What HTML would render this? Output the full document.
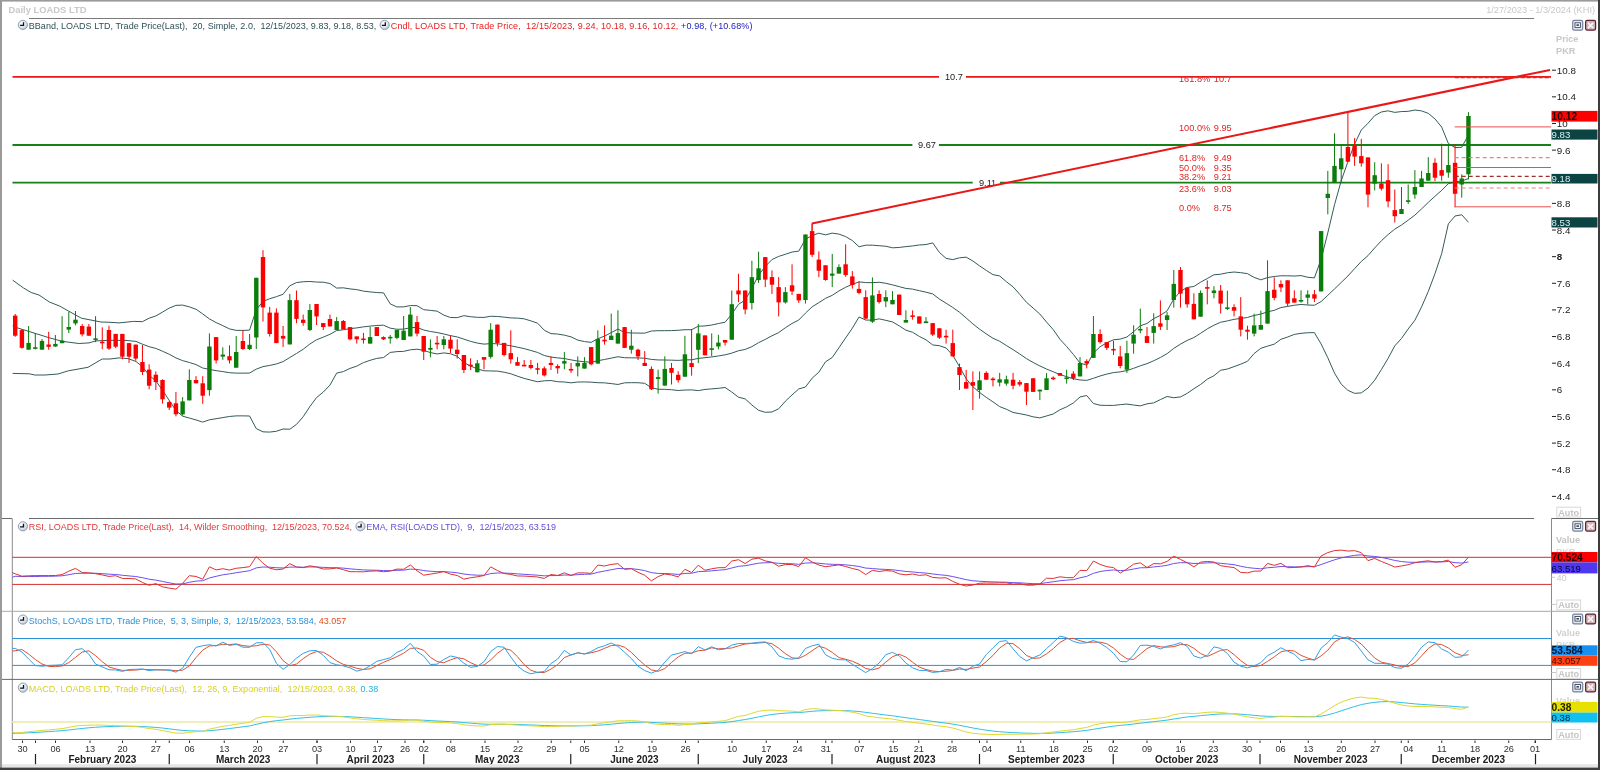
<!DOCTYPE html>
<html><head><meta charset="utf-8"><style>
html,body{margin:0;padding:0;background:#fff;overflow:hidden;width:1600px;height:770px}
svg{display:block;will-change:transform}
text{font-family:"Liberation Sans", sans-serif;white-space:pre}
</style></head><body>
<svg width="1600" height="770" viewBox="0 0 1600 770">
<defs><radialGradient id="clk" cx="0.4" cy="0.35" r="0.7"><stop offset="0" stop-color="#ffffff"/><stop offset="0.6" stop-color="#dfe6f0"/><stop offset="1" stop-color="#a8b8cc"/></radialGradient></defs>
<rect x="0" y="0" width="1600" height="770" fill="#ffffff"/>
<text x="8.5" y="13.2" font-size="9.4" fill="#c8c8c8" font-weight="bold">Daily LOADS LTD</text>
<text x="1595" y="13.2" font-size="9.2" fill="#c8c8c8" text-anchor="end">1/27/2023 - 1/3/2024 (KHI)</text>
<line x1="29" y1="18.5" x2="1534" y2="18.5" stroke="#7a7a7a" stroke-width="1"/>
<rect x="1572.7" y="20.4" width="10" height="9.8" rx="1.6" fill="#e4e9f0" stroke="#73839a" stroke-width="1.2"/>
<rect x="1575" y="22.8" width="5.4" height="4.6" fill="#ffffff" stroke="#3e4656" stroke-width="0.9"/>
<rect x="1576.4" y="24.3" width="2.6" height="1.6" fill="#3e4656"/>
<rect x="1585.6" y="20.4" width="10" height="9.8" rx="1.6" fill="#d2aeb4" stroke="#5c2432" stroke-width="1.2"/>
<path d="M1588,22.8 L1593.2,28 M1593.2,22.8 L1588,28" stroke="#f4f4f4" stroke-width="1.8"/>
<text x="1556" y="42" font-size="9.2" fill="#c8c8c8" font-weight="bold">Price</text>
<text x="1556" y="54" font-size="9.2" fill="#c8c8c8" font-weight="bold">PKR</text>
<g transform="translate(22.9,24.9)"><circle r="4.6" fill="url(#clk)" stroke="#8a96aa" stroke-width="0.9"/><path d="M0.6,-2.6 V0.5 H-2.8" fill="none" stroke="#111" stroke-width="1.3"/></g>
<text x="28.8" y="28.8" font-size="9" textLength="347.5" lengthAdjust="spacing" fill="#2f4f58">BBand, LOADS LTD, Trade Price(Last),  20, Simple, 2.0,  12/15/2023, 9.83, 9.18, 8.53,</text>
<g transform="translate(384.7,24.9)"><circle r="4.6" fill="url(#clk)" stroke="#8a96aa" stroke-width="0.9"/><path d="M0.6,-2.6 V0.5 H-2.8" fill="none" stroke="#111" stroke-width="1.3"/></g>
<text x="390.8" y="28.8" font-size="9" textLength="361.7" lengthAdjust="spacing" fill="#e82020">Cndl, LOADS LTD, Trade Price,  12/15/2023, 9.24, 10.18, 9.16, 10.12, <tspan fill="#2020c0">+0.98, (+10.68%)</tspan></text>
<line x1="12.5" y1="76.9" x2="939" y2="76.9" stroke="#e81818" stroke-width="1.8"/>
<line x1="966" y1="76.9" x2="1551" y2="76.9" stroke="#e81818" stroke-width="1.8"/>
<text x="945" y="80.2" font-size="9.2" fill="#202020">10.7</text>
<line x1="12.5" y1="145" x2="912.4" y2="145" stroke="#178017" stroke-width="1.8"/>
<line x1="939" y1="145" x2="1551" y2="145" stroke="#178017" stroke-width="1.8"/>
<text x="918" y="148.3" font-size="9.2" fill="#202020">9.67</text>
<line x1="12.5" y1="182.7" x2="972.7" y2="182.7" stroke="#178017" stroke-width="1.8"/>
<line x1="1000" y1="182.7" x2="1551" y2="182.7" stroke="#178017" stroke-width="1.8"/>
<text x="979" y="186" font-size="9.2" fill="#202020">9.11</text>
<polyline points="12.6,280.1 23.4,287.9 31.2,292.5 39,295 49.4,302 59.7,306.1 68.4,311 81.4,318.2 101,322 110,322.3 119,322.9 133.6,321.4 142.44,321.65 149.14,318.17 155.84,315.97 162.53,312.08 169.23,308.1 175.93,305.37 182.62,305.1 189.32,306.85 196.02,309.24 202.72,313.92 209.41,318.91 216.11,322.6 222.81,325.63 229.5,328.9 236.2,330.37 242.9,330.44 249.59,330.1 256.29,309.58 262.99,301.45 269.69,298.75 276.38,296.68 283.08,294.24 289.78,285.79 296.47,282.58 303.17,281.74 309.87,281.49 316.56,282.04 323.26,282.23 329.96,283.5 336.66,288.07 343.35,287.84 350.05,288.92 356.75,289.62 363.44,291.12 370.14,291.92 376.84,292.56 383.53,292.85 390.23,303.87 396.93,306.94 403.63,306.87 410.32,305.56 417.02,305.7 423.72,309.67 430.41,310.38 437.11,311.13 443.81,315.1 450.5,317.51 457.2,317.64 463.9,315.68 470.6,316.72 477.29,317.32 483.99,317.42 490.69,316.28 497.38,316.48 504.08,317.14 510.78,317.9 517.48,318.11 524.17,318.84 530.87,320.89 537.57,323.18 544.26,330.22 550.96,333.6 557.66,334.07 564.35,335.15 571.05,336.88 577.75,340.07 584.45,341.57 591.14,342.38 597.84,338.73 604.54,336.11 611.23,332.63 617.93,329.09 624.63,332.54 631.32,332.98 638.02,333.08 644.72,333.17 651.42,331.05 658.11,330.69 664.81,330.68 671.51,330.6 678.2,330.28 684.9,329.71 691.6,329.71 698.29,326.22 704.99,325.91 711.69,325.03 718.39,323.55 725.08,322.21 731.78,314.18 738.48,304.34 745.17,300.02 751.87,288.32 758.57,275.09 765.26,266.45 771.96,259.59 778.66,256.41 785.36,254.28 792.05,252.04 798.75,251.13 805.45,239.21 812.14,235.53 818.84,233.19 825.54,234.86 832.23,233.14 838.93,234.09 845.63,236.59 852.33,240.54 859.02,246.77 865.72,245.17 872.42,245.16 879.11,245.72 885.81,246.24 892.51,247.81 899.2,247.44 905.9,246.62 912.6,245.94 919.3,244.97 925.99,244.55 932.69,242.87 939.39,252.42 946.08,258.39 952.78,259.63 959.48,257.81 966.17,257.17 972.87,261 979.57,265.89 986.27,270.38 992.96,274.63 999.66,275.94 1006.36,281.7 1013.05,286.84 1019.75,294.36 1026.45,302.25 1033.14,308.07 1039.84,314 1046.54,322.09 1053.24,329.61 1059.93,339.22 1066.63,346.5 1073.33,354.4 1080.02,363.03 1086.72,365.2 1093.42,353.07 1100.11,346.72 1106.81,342.77 1113.51,339.75 1120.21,339.12 1126.9,337.03 1133.6,331.64 1140.3,325.74 1146.99,323.5 1153.69,318.63 1160.39,315.4 1167.08,310.85 1173.78,299.03 1180.48,291.37 1187.17,287.45 1193.87,286.47 1200.57,282.2 1207.27,278.5 1213.96,274.79 1220.66,274.19 1227.36,272.77 1234.05,272.02 1240.75,272.67 1247.45,273.65 1254.14,277.41 1260.84,279.8 1267.54,277.6 1274.24,276.47 1280.93,275.8 1287.63,275.81 1294.33,276.03 1301.02,275.59 1307.72,277.28 1314.42,277.86 1321.12,259.21 1327.81,232.87 1334.51,204.78 1341.21,180.81 1347.9,161.7 1354.6,143.96 1361.3,130.06 1367.99,123.22 1374.69,115.65 1381.39,111.97 1388.09,110.82 1394.78,112.39 1401.48,111.56 1408.18,111.35 1414.87,110 1421.57,110.9 1428.27,113.33 1434.96,118.88 1441.66,127.05 1448.36,143.52 1455.06,147.62 1461.75,147.29 1468.45,134.79" fill="none" stroke="#345a5a" stroke-width="1" stroke-linejoin="round"/>
<polyline points="12.6,326 17.8,328 49,337.7 62,341.3 78.8,343.5 89,342.9 95.7,340.9 110,340.3 126,340.4 136,341.4 142.44,344.19 149.14,346.69 155.84,348.41 162.53,351.23 169.23,354.24 175.93,357.91 182.62,360.64 189.32,362.45 196.02,364.58 202.72,368.02 209.41,369.36 216.11,370.66 222.81,371.6 229.5,372.69 236.2,373.13 242.9,373.15 249.59,373.05 256.29,369.11 262.99,366.64 269.69,365.42 276.38,363.97 283.08,361.62 289.78,357.52 296.47,353.5 303.17,349.26 309.87,344.04 316.56,339.79 323.26,337.15 329.96,334.3 336.66,330.57 343.35,329.72 350.05,328.66 356.75,327.9 363.44,326.87 370.14,326.12 376.84,325.47 383.53,325.2 390.23,328.16 396.93,329.28 403.63,329.12 410.32,327.7 417.02,327.45 423.72,330.02 430.41,331.48 437.11,332.55 443.81,334.01 450.5,335.62 457.2,336.97 463.9,339.15 470.6,341.39 477.29,343.08 483.99,344.11 490.69,343.62 497.38,343.78 504.08,344.68 510.78,345.84 517.48,347.16 524.17,348.62 530.87,350.51 537.57,352.46 544.26,355.5 550.96,357.07 557.66,357.91 564.35,358.56 571.05,359.86 577.75,361.04 584.45,361.75 591.14,362.27 597.84,360.71 604.54,359.49 611.23,358.11 617.93,356.78 624.63,357.69 631.32,357.83 638.02,357.9 644.72,358.23 651.42,359.41 658.11,359.96 664.81,360.01 671.51,360.16 678.2,360.4 684.9,359.87 691.6,359.8 698.29,358.42 704.99,357.68 711.69,356.95 718.39,355.94 725.08,354.85 731.78,353.12 738.48,350.76 745.17,349.45 751.87,346.66 758.57,342.68 765.26,339.38 771.96,335.79 778.66,332.61 785.36,327.75 792.05,323.46 798.75,320.04 805.45,313.12 812.14,306.85 818.84,302.67 825.54,298.32 832.23,295.33 838.93,290.93 845.63,287.25 852.33,284.38 859.02,281.89 865.72,282.61 872.42,282.66 879.11,282.29 885.81,283.29 892.51,284.87 899.2,286.64 905.9,288.41 912.6,289.12 919.3,290.69 925.99,292.19 932.69,293.9 939.39,299.06 946.08,303.18 952.78,307.46 959.48,312.21 966.17,317.96 972.87,323.89 979.57,329.16 986.27,333.89 992.96,338.24 999.66,341.27 1006.36,345.47 1013.05,349.65 1019.75,354.02 1026.45,358.61 1033.14,362.45 1039.84,365.94 1046.54,369.02 1053.24,371.79 1059.93,374.5 1066.63,376.67 1073.33,378.7 1080.02,379.99 1086.72,380.35 1093.42,378.3 1100.11,375.98 1106.81,374.09 1113.51,372.58 1120.21,371.89 1126.9,370.56 1133.6,368.33 1140.3,365.81 1146.99,363.67 1153.69,360.75 1160.39,357.5 1167.08,353.67 1173.78,348.38 1180.48,344.14 1187.17,340.42 1193.87,337.59 1200.57,333.34 1207.27,328.85 1213.96,325.23 1220.66,322.23 1227.36,320.9 1234.05,319.33 1240.75,318.42 1247.45,317.49 1254.14,315.46 1260.84,314.05 1267.54,311.88 1274.24,310.32 1280.93,307.54 1287.63,306.42 1294.33,305.22 1301.02,304.47 1307.72,305 1314.42,305.25 1321.12,301.59 1327.81,295.31 1334.51,288.96 1341.21,282.46 1347.9,276.01 1354.6,268.66 1361.3,261.46 1367.99,255.66 1374.69,247.93 1381.39,240.78 1388.09,234.58 1394.78,229.14 1401.48,225.03 1408.18,220.16 1414.87,215.14 1421.57,208.89 1428.27,202.41 1434.96,196.28 1441.66,190.34 1448.36,183.66 1455.06,181.79 1461.75,181.03 1468.45,178.54" fill="none" stroke="#345a5a" stroke-width="1" stroke-linejoin="round"/>
<polyline points="12.6,373.4 29.5,373.8 34.7,375 45,375 58,374 68.4,370.8 88,367.3 102.2,359 110,359 119,357.9 128,358.6 136,361.5 142.44,366.74 149.14,375.22 155.84,380.85 162.53,390.38 169.23,400.38 175.93,410.45 182.62,416.18 189.32,418.04 196.02,419.93 202.72,422.12 209.41,419.81 216.11,418.72 222.81,417.58 229.5,416.48 236.2,415.89 242.9,415.86 249.59,416.01 256.29,428.64 262.99,431.84 269.69,432.08 276.38,431.26 283.08,428.99 289.78,429.24 296.47,424.41 303.17,416.78 309.87,406.6 316.56,397.55 323.26,392.07 329.96,385.11 336.66,373.08 343.35,371.59 350.05,368.4 356.75,366.17 363.44,362.61 370.14,360.32 376.84,358.38 383.53,357.54 390.23,352.44 396.93,351.63 403.63,351.37 410.32,349.83 417.02,349.19 423.72,350.38 430.41,352.57 437.11,353.96 443.81,352.92 450.5,353.73 457.2,356.29 463.9,362.61 470.6,366.05 477.29,368.85 483.99,370.79 490.69,370.97 497.38,371.08 504.08,372.21 510.78,373.78 517.48,376.21 524.17,378.4 530.87,380.14 537.57,381.75 544.26,380.79 550.96,380.55 557.66,381.74 564.35,381.98 571.05,382.84 577.75,382.01 584.45,381.94 591.14,382.16 597.84,382.7 604.54,382.87 611.23,383.59 617.93,384.47 624.63,382.84 631.32,382.68 638.02,382.72 644.72,383.3 651.42,387.78 658.11,389.23 664.81,389.34 671.51,389.73 678.2,390.53 684.9,390.03 691.6,389.9 698.29,390.62 704.99,389.44 711.69,388.87 718.39,388.32 725.08,387.49 731.78,392.05 738.48,397.19 745.17,398.89 751.87,405 758.57,410.27 765.26,412.3 771.96,411.99 778.66,408.81 785.36,401.22 792.05,394.89 798.75,388.95 805.45,387.04 812.14,378.18 818.84,372.16 825.54,361.79 832.23,357.53 838.93,347.76 845.63,337.92 852.33,328.21 859.02,317.01 865.72,320.05 872.42,320.16 879.11,318.86 885.81,320.33 892.51,321.93 899.2,325.84 905.9,330.19 912.6,332.29 919.3,336.41 925.99,339.83 932.69,344.93 939.39,345.7 946.08,347.96 952.78,355.29 959.48,366.61 966.17,378.75 972.87,386.78 979.57,392.42 986.27,397.4 992.96,401.85 999.66,406.61 1006.36,409.24 1013.05,412.46 1019.75,413.69 1026.45,414.97 1033.14,416.84 1039.84,417.88 1046.54,415.96 1053.24,413.97 1059.93,409.79 1066.63,406.84 1073.33,403 1080.02,396.95 1086.72,395.5 1093.42,403.53 1100.11,405.23 1106.81,405.4 1113.51,405.41 1120.21,404.67 1126.9,404.09 1133.6,405.02 1140.3,405.89 1146.99,403.85 1153.69,402.87 1160.39,399.6 1167.08,396.49 1173.78,397.73 1180.48,396.92 1187.17,393.38 1193.87,388.72 1200.57,384.49 1207.27,379.2 1213.96,375.67 1220.66,370.27 1227.36,369.03 1234.05,366.64 1240.75,364.17 1247.45,361.34 1254.14,353.52 1260.84,348.31 1267.54,346.15 1274.24,344.17 1280.93,339.29 1287.63,337.03 1294.33,334.4 1301.02,333.34 1307.72,332.71 1314.42,332.63 1321.12,343.96 1327.81,357.75 1334.51,373.14 1341.21,384.1 1347.9,390.33 1354.6,393.37 1361.3,392.86 1367.99,388.09 1374.69,380.21 1381.39,369.59 1388.09,358.34 1394.78,345.89 1401.48,338.51 1408.18,328.98 1414.87,320.29 1421.57,306.88 1428.27,291.49 1434.96,273.68 1441.66,253.63 1448.36,223.8 1455.06,215.97 1461.75,214.77 1468.45,222.28" fill="none" stroke="#345a5a" stroke-width="1" stroke-linejoin="round"/>
<rect x="14.7" y="314" width="1" height="22.8" fill="#fa0000"/>
<rect x="13" y="315.6" width="4.4" height="20.1" fill="#fa0000"/>
<rect x="21.4" y="329.2" width="1" height="19.5" fill="#fa0000"/>
<rect x="19.7" y="330.1" width="4.4" height="17.7" fill="#fa0000"/>
<rect x="28.09" y="326" width="1" height="23.7" fill="#0a7d0a"/>
<rect x="26.39" y="342.9" width="4.4" height="6.8" fill="#0a7d0a"/>
<rect x="34.79" y="333.1" width="1" height="16.3" fill="#0a7d0a"/>
<rect x="33.09" y="347.25" width="4.4" height="1.6" fill="#0a7d0a"/>
<rect x="41.49" y="339" width="1" height="10.7" fill="#0a7d0a"/>
<rect x="39.79" y="340.9" width="4.4" height="8.8" fill="#0a7d0a"/>
<rect x="48.19" y="331.8" width="1" height="17.9" fill="#fa0000"/>
<rect x="46.48" y="344.5" width="4.4" height="2.3" fill="#fa0000"/>
<rect x="54.88" y="335" width="1" height="11.8" fill="#0a7d0a"/>
<rect x="53.18" y="343.9" width="4.4" height="2.6" fill="#0a7d0a"/>
<rect x="61.58" y="316.2" width="1" height="27" fill="#0a7d0a"/>
<rect x="59.88" y="340.5" width="4.4" height="2.7" fill="#0a7d0a"/>
<rect x="68.28" y="311.7" width="1" height="21.4" fill="#0a7d0a"/>
<rect x="66.58" y="327" width="4.4" height="2.6" fill="#0a7d0a"/>
<rect x="74.97" y="311" width="1" height="14.3" fill="#0a7d0a"/>
<rect x="73.27" y="319.7" width="4.4" height="3.7" fill="#0a7d0a"/>
<rect x="81.67" y="324" width="1" height="12.4" fill="#fa0000"/>
<rect x="79.97" y="326" width="4.4" height="8.4" fill="#fa0000"/>
<rect x="88.37" y="324" width="1" height="12" fill="#fa0000"/>
<rect x="86.67" y="326.6" width="4.4" height="9.1" fill="#fa0000"/>
<rect x="95.06" y="316.2" width="1" height="26" fill="#0a7d0a"/>
<rect x="93.36" y="338.35" width="4.4" height="1.6" fill="#0a7d0a"/>
<rect x="101.76" y="327.3" width="1" height="21.8" fill="#fa0000"/>
<rect x="100.06" y="341.7" width="4.4" height="1.6" fill="#fa0000"/>
<rect x="108.46" y="325.7" width="1" height="24.3" fill="#fa0000"/>
<rect x="106.76" y="330" width="4.4" height="18.6" fill="#fa0000"/>
<rect x="115.16" y="333.9" width="1" height="14.2" fill="#fa0000"/>
<rect x="113.45" y="333.9" width="4.4" height="12.8" fill="#fa0000"/>
<rect x="121.85" y="333.9" width="1" height="25.4" fill="#fa0000"/>
<rect x="120.15" y="333.9" width="4.4" height="22.8" fill="#fa0000"/>
<rect x="128.55" y="343.1" width="1" height="19.8" fill="#fa0000"/>
<rect x="126.85" y="343.1" width="4.4" height="13.6" fill="#fa0000"/>
<rect x="135.25" y="344.6" width="1" height="16.1" fill="#fa0000"/>
<rect x="133.55" y="344.6" width="4.4" height="14" fill="#fa0000"/>
<rect x="141.94" y="345" width="1" height="30" fill="#fa0000"/>
<rect x="140.24" y="362" width="4.4" height="10" fill="#fa0000"/>
<rect x="148.64" y="364.3" width="1" height="25" fill="#fa0000"/>
<rect x="146.94" y="369.6" width="4.4" height="16.1" fill="#fa0000"/>
<rect x="155.34" y="371.4" width="1" height="18.6" fill="#fa0000"/>
<rect x="153.64" y="374.7" width="4.4" height="7.4" fill="#fa0000"/>
<rect x="162.03" y="379.3" width="1" height="24.3" fill="#fa0000"/>
<rect x="160.33" y="380" width="4.4" height="19.3" fill="#fa0000"/>
<rect x="168.73" y="400.7" width="1" height="9.3" fill="#fa0000"/>
<rect x="167.03" y="402.1" width="4.4" height="5.5" fill="#fa0000"/>
<rect x="175.43" y="392" width="1" height="24.4" fill="#fa0000"/>
<rect x="173.73" y="403.3" width="4.4" height="11" fill="#fa0000"/>
<rect x="182.12" y="397.1" width="1" height="18.6" fill="#0a7d0a"/>
<rect x="180.43" y="401.4" width="4.4" height="12.9" fill="#0a7d0a"/>
<rect x="188.82" y="369.3" width="1" height="31.1" fill="#0a7d0a"/>
<rect x="187.12" y="380" width="4.4" height="20.4" fill="#0a7d0a"/>
<rect x="195.52" y="376.1" width="1" height="7.2" fill="#fa0000"/>
<rect x="193.82" y="380" width="4.4" height="3.3" fill="#fa0000"/>
<rect x="202.22" y="376.2" width="1" height="27.6" fill="#fa0000"/>
<rect x="200.52" y="383.3" width="4.4" height="12.4" fill="#fa0000"/>
<rect x="208.91" y="333.4" width="1" height="62.3" fill="#0a7d0a"/>
<rect x="207.21" y="346.5" width="4.4" height="43.6" fill="#0a7d0a"/>
<rect x="215.61" y="337.1" width="1" height="26.4" fill="#fa0000"/>
<rect x="213.91" y="337.1" width="4.4" height="23.3" fill="#fa0000"/>
<rect x="222.31" y="347.3" width="1" height="12.5" fill="#0a7d0a"/>
<rect x="220.61" y="354.6" width="4.4" height="2" fill="#0a7d0a"/>
<rect x="229" y="345.4" width="1" height="18.1" fill="#fa0000"/>
<rect x="227.3" y="356.2" width="4.4" height="4.2" fill="#fa0000"/>
<rect x="235.7" y="336" width="1" height="31.7" fill="#0a7d0a"/>
<rect x="234" y="352" width="4.4" height="15.7" fill="#0a7d0a"/>
<rect x="242.4" y="330.2" width="1" height="19.8" fill="#fa0000"/>
<rect x="240.7" y="341" width="4.4" height="8" fill="#fa0000"/>
<rect x="249.09" y="334" width="1" height="16" fill="#0a7d0a"/>
<rect x="247.4" y="344.8" width="4.4" height="4.2" fill="#0a7d0a"/>
<rect x="255.79" y="277.8" width="1" height="71.2" fill="#0a7d0a"/>
<rect x="254.09" y="277.8" width="4.4" height="59.7" fill="#0a7d0a"/>
<rect x="262.49" y="250.2" width="1" height="71.3" fill="#fa0000"/>
<rect x="260.79" y="257" width="4.4" height="50.4" fill="#fa0000"/>
<rect x="269.19" y="307" width="1" height="29.5" fill="#fa0000"/>
<rect x="267.49" y="312.6" width="4.4" height="21.4" fill="#fa0000"/>
<rect x="275.88" y="308.4" width="1" height="34.7" fill="#fa0000"/>
<rect x="274.18" y="312.6" width="4.4" height="30.5" fill="#fa0000"/>
<rect x="282.58" y="326" width="1" height="20.9" fill="#fa0000"/>
<rect x="280.88" y="335.9" width="4.4" height="2.7" fill="#fa0000"/>
<rect x="289.28" y="293.9" width="1" height="50.5" fill="#0a7d0a"/>
<rect x="287.58" y="300.1" width="4.4" height="44.3" fill="#0a7d0a"/>
<rect x="295.97" y="290.5" width="1" height="32.8" fill="#fa0000"/>
<rect x="294.27" y="300.2" width="4.4" height="18.7" fill="#fa0000"/>
<rect x="302.67" y="314.6" width="1" height="11.1" fill="#fa0000"/>
<rect x="300.97" y="319.7" width="4.4" height="3.2" fill="#fa0000"/>
<rect x="309.37" y="304" width="1" height="27.1" fill="#0a7d0a"/>
<rect x="307.67" y="310" width="4.4" height="20" fill="#0a7d0a"/>
<rect x="316.06" y="304" width="1" height="21" fill="#fa0000"/>
<rect x="314.37" y="304" width="4.4" height="12.4" fill="#fa0000"/>
<rect x="322.76" y="323.1" width="1" height="6.9" fill="#fa0000"/>
<rect x="321.06" y="323.1" width="4.4" height="4" fill="#fa0000"/>
<rect x="329.46" y="314.6" width="1" height="11.8" fill="#fa0000"/>
<rect x="327.76" y="319" width="4.4" height="7.4" fill="#fa0000"/>
<rect x="336.16" y="317.1" width="1" height="12.9" fill="#0a7d0a"/>
<rect x="334.46" y="321.1" width="4.4" height="8.9" fill="#0a7d0a"/>
<rect x="342.85" y="320" width="1" height="9.3" fill="#fa0000"/>
<rect x="341.15" y="321" width="4.4" height="8.3" fill="#fa0000"/>
<rect x="349.55" y="327.1" width="1" height="13.2" fill="#fa0000"/>
<rect x="347.85" y="327.1" width="4.4" height="12.2" fill="#fa0000"/>
<rect x="356.25" y="336.4" width="1" height="7.2" fill="#fa0000"/>
<rect x="354.55" y="336.4" width="4.4" height="2.9" fill="#fa0000"/>
<rect x="362.94" y="332.9" width="1" height="10.7" fill="#fa0000"/>
<rect x="361.24" y="338.5" width="4.4" height="1.6" fill="#fa0000"/>
<rect x="369.64" y="326.9" width="1" height="16.7" fill="#0a7d0a"/>
<rect x="367.94" y="337.1" width="4.4" height="6.5" fill="#0a7d0a"/>
<rect x="376.34" y="327.1" width="1" height="8.9" fill="#fa0000"/>
<rect x="374.64" y="327.1" width="4.4" height="8.9" fill="#fa0000"/>
<rect x="383.03" y="336.4" width="1" height="3.6" fill="#fa0000"/>
<rect x="381.33" y="337.1" width="4.4" height="2.2" fill="#fa0000"/>
<rect x="389.73" y="335" width="1" height="8.6" fill="#0a7d0a"/>
<rect x="388.03" y="336.85" width="4.4" height="1.6" fill="#0a7d0a"/>
<rect x="396.43" y="330" width="1" height="9.3" fill="#0a7d0a"/>
<rect x="394.73" y="330" width="4.4" height="7.9" fill="#0a7d0a"/>
<rect x="403.13" y="316" width="1" height="24" fill="#0a7d0a"/>
<rect x="401.43" y="330.7" width="4.4" height="9.3" fill="#0a7d0a"/>
<rect x="409.82" y="307.1" width="1" height="29.3" fill="#0a7d0a"/>
<rect x="408.12" y="314.6" width="4.4" height="21.8" fill="#0a7d0a"/>
<rect x="416.52" y="316" width="1" height="20.4" fill="#fa0000"/>
<rect x="414.82" y="322.1" width="4.4" height="11.5" fill="#fa0000"/>
<rect x="423.22" y="336" width="1" height="24" fill="#fa0000"/>
<rect x="421.52" y="336" width="4.4" height="15.7" fill="#fa0000"/>
<rect x="429.91" y="339.3" width="1" height="18.1" fill="#0a7d0a"/>
<rect x="428.21" y="347.9" width="4.4" height="1.8" fill="#0a7d0a"/>
<rect x="436.61" y="336" width="1" height="13.3" fill="#fa0000"/>
<rect x="434.91" y="342.8" width="4.4" height="1.6" fill="#fa0000"/>
<rect x="443.31" y="336" width="1" height="13.3" fill="#0a7d0a"/>
<rect x="441.61" y="339.3" width="4.4" height="5.7" fill="#0a7d0a"/>
<rect x="450" y="335.4" width="1" height="17.5" fill="#fa0000"/>
<rect x="448.31" y="339.7" width="4.4" height="8.9" fill="#fa0000"/>
<rect x="456.7" y="339.3" width="1" height="19.3" fill="#fa0000"/>
<rect x="455" y="349.7" width="4.4" height="4.3" fill="#fa0000"/>
<rect x="463.4" y="355" width="1" height="18.1" fill="#fa0000"/>
<rect x="461.7" y="355" width="4.4" height="15" fill="#fa0000"/>
<rect x="470.1" y="358.3" width="1" height="11.7" fill="#fa0000"/>
<rect x="468.4" y="364.65" width="4.4" height="1.6" fill="#fa0000"/>
<rect x="476.79" y="360" width="1" height="12.3" fill="#0a7d0a"/>
<rect x="475.09" y="363.3" width="4.4" height="9" fill="#0a7d0a"/>
<rect x="483.49" y="357.1" width="1" height="12.2" fill="#fa0000"/>
<rect x="481.79" y="357.1" width="4.4" height="2.6" fill="#fa0000"/>
<rect x="490.19" y="323.1" width="1" height="35.5" fill="#0a7d0a"/>
<rect x="488.49" y="329.7" width="4.4" height="27.2" fill="#0a7d0a"/>
<rect x="496.88" y="324.6" width="1" height="21.8" fill="#fa0000"/>
<rect x="495.18" y="324.6" width="4.4" height="18.3" fill="#fa0000"/>
<rect x="503.58" y="342.9" width="1" height="13.5" fill="#fa0000"/>
<rect x="501.88" y="342.9" width="4.4" height="12.1" fill="#fa0000"/>
<rect x="510.28" y="330.3" width="1" height="33.3" fill="#fa0000"/>
<rect x="508.58" y="353.1" width="4.4" height="6.2" fill="#fa0000"/>
<rect x="516.98" y="357.1" width="1" height="8.6" fill="#fa0000"/>
<rect x="515.27" y="362.1" width="4.4" height="3.6" fill="#fa0000"/>
<rect x="523.67" y="360" width="1" height="6.2" fill="#fa0000"/>
<rect x="521.97" y="364.8" width="4.4" height="1.6" fill="#fa0000"/>
<rect x="530.37" y="360" width="1" height="9.3" fill="#fa0000"/>
<rect x="528.67" y="365" width="4.4" height="2.9" fill="#fa0000"/>
<rect x="537.07" y="362.9" width="1" height="11.4" fill="#fa0000"/>
<rect x="535.37" y="368.2" width="4.4" height="1.6" fill="#fa0000"/>
<rect x="543.76" y="366.4" width="1" height="10" fill="#fa0000"/>
<rect x="542.06" y="368.3" width="4.4" height="7.1" fill="#fa0000"/>
<rect x="550.46" y="356.4" width="1" height="13.6" fill="#fa0000"/>
<rect x="548.76" y="362.9" width="4.4" height="2.1" fill="#fa0000"/>
<rect x="557.16" y="364.3" width="1" height="9.3" fill="#fa0000"/>
<rect x="555.46" y="366" width="4.4" height="2.3" fill="#fa0000"/>
<rect x="563.85" y="352.1" width="1" height="17.2" fill="#0a7d0a"/>
<rect x="562.15" y="361.1" width="4.4" height="2.5" fill="#0a7d0a"/>
<rect x="570.55" y="362.9" width="1" height="10" fill="#fa0000"/>
<rect x="568.85" y="368.95" width="4.4" height="1.6" fill="#fa0000"/>
<rect x="577.25" y="356.4" width="1" height="20" fill="#0a7d0a"/>
<rect x="575.55" y="362.9" width="4.4" height="3.5" fill="#0a7d0a"/>
<rect x="583.95" y="357.1" width="1" height="11.5" fill="#0a7d0a"/>
<rect x="582.25" y="362.9" width="4.4" height="5.7" fill="#0a7d0a"/>
<rect x="590.64" y="347.1" width="1" height="18.3" fill="#fa0000"/>
<rect x="588.94" y="347.1" width="4.4" height="17.2" fill="#fa0000"/>
<rect x="597.34" y="330.3" width="1" height="33.3" fill="#0a7d0a"/>
<rect x="595.64" y="338.9" width="4.4" height="24.7" fill="#0a7d0a"/>
<rect x="604.04" y="325.4" width="1" height="19.2" fill="#fa0000"/>
<rect x="602.34" y="339.7" width="4.4" height="1.7" fill="#fa0000"/>
<rect x="610.73" y="313.6" width="1" height="26.4" fill="#0a7d0a"/>
<rect x="609.03" y="335.7" width="4.4" height="4.3" fill="#0a7d0a"/>
<rect x="617.43" y="310.3" width="1" height="33.3" fill="#0a7d0a"/>
<rect x="615.73" y="333.1" width="4.4" height="10.5" fill="#0a7d0a"/>
<rect x="624.13" y="327.1" width="1" height="20.8" fill="#fa0000"/>
<rect x="622.43" y="327.1" width="4.4" height="20.8" fill="#fa0000"/>
<rect x="630.82" y="329.7" width="1" height="23.9" fill="#0a7d0a"/>
<rect x="629.12" y="345.7" width="4.4" height="4" fill="#0a7d0a"/>
<rect x="637.52" y="348.6" width="1" height="11.4" fill="#fa0000"/>
<rect x="635.82" y="349.7" width="4.4" height="6.7" fill="#fa0000"/>
<rect x="644.22" y="351.1" width="1" height="14.9" fill="#fa0000"/>
<rect x="642.52" y="362.9" width="4.4" height="3.1" fill="#fa0000"/>
<rect x="650.92" y="366.4" width="1" height="23.6" fill="#fa0000"/>
<rect x="649.22" y="368.9" width="4.4" height="20.4" fill="#fa0000"/>
<rect x="657.61" y="369.7" width="1" height="23.9" fill="#0a7d0a"/>
<rect x="655.91" y="377.1" width="4.4" height="1.8" fill="#0a7d0a"/>
<rect x="664.31" y="356.3" width="1" height="29.3" fill="#0a7d0a"/>
<rect x="662.61" y="368.9" width="4.4" height="16.7" fill="#0a7d0a"/>
<rect x="671.01" y="363" width="1" height="21.5" fill="#fa0000"/>
<rect x="669.31" y="368" width="4.4" height="4.8" fill="#fa0000"/>
<rect x="677.7" y="371.2" width="1" height="11.4" fill="#fa0000"/>
<rect x="676" y="374.8" width="4.4" height="5.4" fill="#fa0000"/>
<rect x="684.4" y="335.8" width="1" height="40.9" fill="#0a7d0a"/>
<rect x="682.7" y="354.3" width="4.4" height="22.4" fill="#0a7d0a"/>
<rect x="691.1" y="329" width="1" height="46.7" fill="#fa0000"/>
<rect x="689.4" y="363.1" width="4.4" height="3.9" fill="#fa0000"/>
<rect x="697.79" y="324" width="1" height="39.1" fill="#0a7d0a"/>
<rect x="696.09" y="333.4" width="4.4" height="16.4" fill="#0a7d0a"/>
<rect x="704.49" y="335.4" width="1" height="19.9" fill="#fa0000"/>
<rect x="702.79" y="335.4" width="4.4" height="19.9" fill="#fa0000"/>
<rect x="711.19" y="333.4" width="1" height="22.8" fill="#0a7d0a"/>
<rect x="709.49" y="348.3" width="4.4" height="1.6" fill="#0a7d0a"/>
<rect x="717.89" y="334.8" width="1" height="14.6" fill="#0a7d0a"/>
<rect x="716.19" y="342.6" width="4.4" height="3.9" fill="#0a7d0a"/>
<rect x="724.58" y="340" width="1" height="5.5" fill="#fa0000"/>
<rect x="722.88" y="340" width="4.4" height="2.6" fill="#fa0000"/>
<rect x="731.28" y="290.5" width="1" height="49.2" fill="#0a7d0a"/>
<rect x="729.58" y="304.2" width="4.4" height="35.5" fill="#0a7d0a"/>
<rect x="737.98" y="273.8" width="1" height="28.4" fill="#fa0000"/>
<rect x="736.28" y="290.5" width="4.4" height="3.9" fill="#fa0000"/>
<rect x="744.67" y="290.5" width="1" height="23.8" fill="#fa0000"/>
<rect x="742.97" y="290.5" width="4.4" height="19" fill="#fa0000"/>
<rect x="751.37" y="260.7" width="1" height="48.8" fill="#0a7d0a"/>
<rect x="749.67" y="277.2" width="4.4" height="25.8" fill="#0a7d0a"/>
<rect x="758.07" y="251.7" width="1" height="31.2" fill="#0a7d0a"/>
<rect x="756.37" y="268.3" width="4.4" height="11.8" fill="#0a7d0a"/>
<rect x="764.76" y="257.1" width="1" height="30" fill="#fa0000"/>
<rect x="763.06" y="257.1" width="4.4" height="22.5" fill="#fa0000"/>
<rect x="771.46" y="270.4" width="1" height="23.5" fill="#fa0000"/>
<rect x="769.76" y="277.1" width="4.4" height="7.6" fill="#fa0000"/>
<rect x="778.16" y="277.1" width="1" height="39.3" fill="#fa0000"/>
<rect x="776.46" y="287.1" width="4.4" height="15.3" fill="#fa0000"/>
<rect x="784.86" y="287.1" width="1" height="16.5" fill="#0a7d0a"/>
<rect x="783.15" y="292.1" width="4.4" height="10.3" fill="#0a7d0a"/>
<rect x="791.55" y="264.3" width="1" height="30.7" fill="#fa0000"/>
<rect x="789.85" y="285.3" width="4.4" height="6.1" fill="#fa0000"/>
<rect x="798.25" y="293.9" width="1" height="9" fill="#fa0000"/>
<rect x="796.55" y="293.9" width="4.4" height="6.5" fill="#fa0000"/>
<rect x="804.95" y="234.5" width="1" height="69.1" fill="#0a7d0a"/>
<rect x="803.25" y="234.5" width="4.4" height="65.5" fill="#0a7d0a"/>
<rect x="811.64" y="223.4" width="1" height="33.7" fill="#fa0000"/>
<rect x="809.94" y="231.1" width="4.4" height="23.7" fill="#fa0000"/>
<rect x="818.34" y="251.4" width="1" height="25.7" fill="#fa0000"/>
<rect x="816.64" y="259.6" width="4.4" height="11.1" fill="#fa0000"/>
<rect x="825.04" y="265.3" width="1" height="15.4" fill="#fa0000"/>
<rect x="823.34" y="265.3" width="4.4" height="14.7" fill="#fa0000"/>
<rect x="831.73" y="253.9" width="1" height="33.2" fill="#0a7d0a"/>
<rect x="830.03" y="273.6" width="4.4" height="2.1" fill="#0a7d0a"/>
<rect x="838.43" y="264.3" width="1" height="9.3" fill="#0a7d0a"/>
<rect x="836.73" y="267.1" width="4.4" height="6.5" fill="#0a7d0a"/>
<rect x="845.13" y="244.3" width="1" height="32.4" fill="#fa0000"/>
<rect x="843.43" y="264.3" width="4.4" height="10.7" fill="#fa0000"/>
<rect x="851.83" y="271.1" width="1" height="17.5" fill="#fa0000"/>
<rect x="850.12" y="276.4" width="4.4" height="8.6" fill="#fa0000"/>
<rect x="858.52" y="281.4" width="1" height="12.9" fill="#fa0000"/>
<rect x="856.82" y="288.9" width="4.4" height="4" fill="#fa0000"/>
<rect x="865.22" y="290.3" width="1" height="29" fill="#fa0000"/>
<rect x="863.52" y="297.1" width="4.4" height="21.5" fill="#fa0000"/>
<rect x="871.92" y="277.4" width="1" height="45.5" fill="#0a7d0a"/>
<rect x="870.22" y="295.4" width="4.4" height="26.3" fill="#0a7d0a"/>
<rect x="878.61" y="290.3" width="1" height="13.3" fill="#fa0000"/>
<rect x="876.91" y="294" width="4.4" height="8.1" fill="#fa0000"/>
<rect x="885.31" y="290.3" width="1" height="16.8" fill="#0a7d0a"/>
<rect x="883.61" y="297.1" width="4.4" height="4.3" fill="#0a7d0a"/>
<rect x="892.01" y="291.1" width="1" height="13.2" fill="#0a7d0a"/>
<rect x="890.31" y="300" width="4.4" height="4.3" fill="#0a7d0a"/>
<rect x="898.7" y="294.6" width="1" height="20.4" fill="#fa0000"/>
<rect x="897" y="294.6" width="4.4" height="20.4" fill="#fa0000"/>
<rect x="905.4" y="310.3" width="1" height="12.3" fill="#0a7d0a"/>
<rect x="903.7" y="320" width="4.4" height="2.6" fill="#0a7d0a"/>
<rect x="912.1" y="310.3" width="1" height="9.4" fill="#fa0000"/>
<rect x="910.4" y="315.35" width="4.4" height="1.6" fill="#fa0000"/>
<rect x="918.8" y="316.4" width="1" height="7.2" fill="#fa0000"/>
<rect x="917.1" y="316.4" width="4.4" height="7.2" fill="#fa0000"/>
<rect x="925.49" y="317.1" width="1" height="6" fill="#0a7d0a"/>
<rect x="923.79" y="321.4" width="4.4" height="1.7" fill="#0a7d0a"/>
<rect x="932.19" y="323.1" width="1" height="12.9" fill="#fa0000"/>
<rect x="930.49" y="323.1" width="4.4" height="11.5" fill="#fa0000"/>
<rect x="938.89" y="328.3" width="1" height="10.6" fill="#fa0000"/>
<rect x="937.19" y="328.3" width="4.4" height="9.4" fill="#fa0000"/>
<rect x="945.58" y="329.7" width="1" height="13.9" fill="#fa0000"/>
<rect x="943.88" y="335.8" width="4.4" height="1.6" fill="#fa0000"/>
<rect x="952.28" y="329.7" width="1" height="26.7" fill="#fa0000"/>
<rect x="950.58" y="343.1" width="4.4" height="13.3" fill="#fa0000"/>
<rect x="958.98" y="363.6" width="1" height="26.4" fill="#fa0000"/>
<rect x="957.28" y="367.1" width="4.4" height="7.9" fill="#fa0000"/>
<rect x="965.67" y="370" width="1" height="18.6" fill="#fa0000"/>
<rect x="963.97" y="382.1" width="4.4" height="6.5" fill="#fa0000"/>
<rect x="972.37" y="371.4" width="1" height="38.6" fill="#fa0000"/>
<rect x="970.67" y="382.1" width="4.4" height="3.6" fill="#fa0000"/>
<rect x="979.07" y="371.4" width="1" height="27.2" fill="#0a7d0a"/>
<rect x="977.37" y="380.3" width="4.4" height="9.7" fill="#0a7d0a"/>
<rect x="985.77" y="371.4" width="1" height="8.3" fill="#fa0000"/>
<rect x="984.07" y="372.9" width="4.4" height="6.8" fill="#fa0000"/>
<rect x="992.46" y="377.1" width="1" height="9.3" fill="#fa0000"/>
<rect x="990.76" y="378.6" width="4.4" height="1.6" fill="#fa0000"/>
<rect x="999.16" y="372.9" width="1" height="13.5" fill="#0a7d0a"/>
<rect x="997.46" y="379.3" width="4.4" height="3.3" fill="#0a7d0a"/>
<rect x="1005.86" y="375.7" width="1" height="10" fill="#0a7d0a"/>
<rect x="1004.16" y="379.3" width="4.4" height="4.3" fill="#0a7d0a"/>
<rect x="1012.55" y="372.9" width="1" height="16.4" fill="#fa0000"/>
<rect x="1010.85" y="379.7" width="4.4" height="6" fill="#fa0000"/>
<rect x="1019.25" y="380" width="1" height="6.4" fill="#fa0000"/>
<rect x="1017.55" y="382.1" width="4.4" height="2.5" fill="#fa0000"/>
<rect x="1025.95" y="383.1" width="1" height="21.9" fill="#fa0000"/>
<rect x="1024.25" y="383.1" width="4.4" height="8.6" fill="#fa0000"/>
<rect x="1032.64" y="378.3" width="1" height="13.6" fill="#fa0000"/>
<rect x="1030.94" y="378.3" width="4.4" height="13.6" fill="#fa0000"/>
<rect x="1039.34" y="389.7" width="1" height="10.3" fill="#0a7d0a"/>
<rect x="1037.64" y="389.7" width="4.4" height="1.7" fill="#0a7d0a"/>
<rect x="1046.04" y="373.1" width="1" height="16.9" fill="#0a7d0a"/>
<rect x="1044.34" y="378.3" width="4.4" height="11.7" fill="#0a7d0a"/>
<rect x="1052.74" y="376.4" width="1" height="3.6" fill="#fa0000"/>
<rect x="1051.04" y="377.6" width="4.4" height="1.6" fill="#fa0000"/>
<rect x="1059.43" y="373.1" width="1" height="2.6" fill="#fa0000"/>
<rect x="1057.73" y="373.1" width="4.4" height="2.6" fill="#fa0000"/>
<rect x="1066.13" y="369.7" width="1" height="13.9" fill="#0a7d0a"/>
<rect x="1064.43" y="377.45" width="4.4" height="1.6" fill="#0a7d0a"/>
<rect x="1072.83" y="371.1" width="1" height="8.9" fill="#fa0000"/>
<rect x="1071.13" y="373.6" width="4.4" height="4.7" fill="#fa0000"/>
<rect x="1079.52" y="357.1" width="1" height="19.3" fill="#0a7d0a"/>
<rect x="1077.82" y="362.9" width="4.4" height="13.5" fill="#0a7d0a"/>
<rect x="1086.22" y="359.3" width="1" height="9" fill="#fa0000"/>
<rect x="1084.52" y="361.1" width="4.4" height="2.5" fill="#fa0000"/>
<rect x="1092.92" y="316" width="1" height="41.9" fill="#0a7d0a"/>
<rect x="1091.22" y="334" width="4.4" height="23.9" fill="#0a7d0a"/>
<rect x="1099.61" y="329.3" width="1" height="14.3" fill="#fa0000"/>
<rect x="1097.91" y="334" width="4.4" height="8.1" fill="#fa0000"/>
<rect x="1106.31" y="342.1" width="1" height="7.9" fill="#fa0000"/>
<rect x="1104.61" y="342.1" width="4.4" height="5.8" fill="#fa0000"/>
<rect x="1113.01" y="340.7" width="1" height="14.3" fill="#fa0000"/>
<rect x="1111.31" y="348.9" width="4.4" height="1.6" fill="#fa0000"/>
<rect x="1119.71" y="346" width="1" height="22.3" fill="#fa0000"/>
<rect x="1118.01" y="356.4" width="4.4" height="9.6" fill="#fa0000"/>
<rect x="1126.4" y="340.7" width="1" height="32.2" fill="#0a7d0a"/>
<rect x="1124.7" y="353.2" width="4.4" height="16.5" fill="#0a7d0a"/>
<rect x="1133.1" y="325.3" width="1" height="28.3" fill="#0a7d0a"/>
<rect x="1131.4" y="334.7" width="4.4" height="8.9" fill="#0a7d0a"/>
<rect x="1139.8" y="308.6" width="1" height="24.7" fill="#0a7d0a"/>
<rect x="1138.1" y="328.9" width="4.4" height="1.6" fill="#0a7d0a"/>
<rect x="1146.49" y="327.1" width="1" height="15.8" fill="#fa0000"/>
<rect x="1144.79" y="336.1" width="4.4" height="6.8" fill="#fa0000"/>
<rect x="1153.19" y="313.3" width="1" height="30.3" fill="#0a7d0a"/>
<rect x="1151.49" y="326.1" width="4.4" height="6.8" fill="#0a7d0a"/>
<rect x="1159.89" y="300.4" width="1" height="29.6" fill="#fa0000"/>
<rect x="1158.19" y="323.3" width="4.4" height="3.4" fill="#fa0000"/>
<rect x="1166.58" y="312.1" width="1" height="17.9" fill="#0a7d0a"/>
<rect x="1164.88" y="315.3" width="4.4" height="4.7" fill="#0a7d0a"/>
<rect x="1173.28" y="270" width="1" height="37.6" fill="#0a7d0a"/>
<rect x="1171.58" y="283.9" width="4.4" height="16.1" fill="#0a7d0a"/>
<rect x="1179.98" y="267.1" width="1" height="40.5" fill="#fa0000"/>
<rect x="1178.28" y="270" width="4.4" height="23.6" fill="#fa0000"/>
<rect x="1186.67" y="287.6" width="1" height="20" fill="#fa0000"/>
<rect x="1184.97" y="287.6" width="4.4" height="16.7" fill="#fa0000"/>
<rect x="1193.37" y="293.3" width="1" height="26" fill="#fa0000"/>
<rect x="1191.67" y="303.9" width="4.4" height="15.4" fill="#fa0000"/>
<rect x="1200.07" y="290.4" width="1" height="26.3" fill="#0a7d0a"/>
<rect x="1198.37" y="292.9" width="4.4" height="23.8" fill="#0a7d0a"/>
<rect x="1206.77" y="280.4" width="1" height="23.9" fill="#fa0000"/>
<rect x="1205.07" y="287.1" width="4.4" height="1.6" fill="#fa0000"/>
<rect x="1213.46" y="286.2" width="1" height="12.1" fill="#0a7d0a"/>
<rect x="1211.76" y="290.5" width="4.4" height="2.6" fill="#0a7d0a"/>
<rect x="1220.16" y="285" width="1" height="28.6" fill="#fa0000"/>
<rect x="1218.46" y="290.6" width="4.4" height="13" fill="#fa0000"/>
<rect x="1226.86" y="290.7" width="1" height="19.3" fill="#0a7d0a"/>
<rect x="1225.16" y="307.35" width="4.4" height="1.6" fill="#0a7d0a"/>
<rect x="1233.55" y="304.3" width="1" height="12.1" fill="#fa0000"/>
<rect x="1231.85" y="307.1" width="4.4" height="3.6" fill="#fa0000"/>
<rect x="1240.25" y="297.1" width="1" height="39.3" fill="#fa0000"/>
<rect x="1238.55" y="316.4" width="4.4" height="13.3" fill="#fa0000"/>
<rect x="1246.95" y="325.7" width="1" height="14" fill="#fa0000"/>
<rect x="1245.25" y="329.7" width="4.4" height="2" fill="#fa0000"/>
<rect x="1253.64" y="313.6" width="1" height="22.8" fill="#0a7d0a"/>
<rect x="1251.94" y="325.4" width="4.4" height="8.2" fill="#0a7d0a"/>
<rect x="1260.34" y="310.7" width="1" height="19" fill="#0a7d0a"/>
<rect x="1258.64" y="325" width="4.4" height="4.7" fill="#0a7d0a"/>
<rect x="1267.04" y="260.3" width="1" height="63.3" fill="#0a7d0a"/>
<rect x="1265.34" y="291.1" width="4.4" height="32.5" fill="#0a7d0a"/>
<rect x="1273.74" y="277.4" width="1" height="22.9" fill="#fa0000"/>
<rect x="1272.04" y="289.7" width="4.4" height="8.2" fill="#fa0000"/>
<rect x="1280.43" y="280.3" width="1" height="11.8" fill="#fa0000"/>
<rect x="1278.73" y="284" width="4.4" height="3.4" fill="#fa0000"/>
<rect x="1287.13" y="280.3" width="1" height="26.1" fill="#fa0000"/>
<rect x="1285.43" y="280.3" width="4.4" height="23.3" fill="#fa0000"/>
<rect x="1293.83" y="290.3" width="1" height="12.3" fill="#fa0000"/>
<rect x="1292.13" y="298.3" width="4.4" height="4.3" fill="#fa0000"/>
<rect x="1300.52" y="290.3" width="1" height="12.3" fill="#0a7d0a"/>
<rect x="1298.82" y="300" width="4.4" height="1.6" fill="#0a7d0a"/>
<rect x="1307.22" y="290.3" width="1" height="14.3" fill="#0a7d0a"/>
<rect x="1305.52" y="294.5" width="4.4" height="3.2" fill="#0a7d0a"/>
<rect x="1313.92" y="290" width="1" height="12.1" fill="#fa0000"/>
<rect x="1312.22" y="294.3" width="4.4" height="4.3" fill="#fa0000"/>
<rect x="1320.62" y="231.1" width="1" height="60.3" fill="#0a7d0a"/>
<rect x="1318.91" y="231.1" width="4.4" height="60.3" fill="#0a7d0a"/>
<rect x="1327.31" y="170.9" width="1" height="43.4" fill="#0a7d0a"/>
<rect x="1325.61" y="193.8" width="4.4" height="4.2" fill="#0a7d0a"/>
<rect x="1334.01" y="133.4" width="1" height="49.4" fill="#0a7d0a"/>
<rect x="1332.31" y="165.9" width="4.4" height="16.9" fill="#0a7d0a"/>
<rect x="1340.71" y="145.3" width="1" height="37.5" fill="#0a7d0a"/>
<rect x="1339.01" y="158.3" width="4.4" height="11" fill="#0a7d0a"/>
<rect x="1347.4" y="111.8" width="1" height="49.9" fill="#fa0000"/>
<rect x="1345.7" y="147" width="4.4" height="14.7" fill="#fa0000"/>
<rect x="1354.1" y="138" width="1" height="27.9" fill="#fa0000"/>
<rect x="1352.4" y="145.9" width="4.4" height="10.7" fill="#fa0000"/>
<rect x="1360.8" y="138.9" width="1" height="27.8" fill="#fa0000"/>
<rect x="1359.1" y="156.1" width="4.4" height="7.2" fill="#fa0000"/>
<rect x="1367.49" y="157.4" width="1" height="49.9" fill="#fa0000"/>
<rect x="1365.79" y="157.4" width="4.4" height="37.2" fill="#fa0000"/>
<rect x="1374.19" y="162.2" width="1" height="28.2" fill="#0a7d0a"/>
<rect x="1372.49" y="175.2" width="4.4" height="8.4" fill="#0a7d0a"/>
<rect x="1380.89" y="163.3" width="1" height="27.1" fill="#fa0000"/>
<rect x="1379.19" y="183.6" width="4.4" height="5.1" fill="#fa0000"/>
<rect x="1387.59" y="164.2" width="1" height="43.1" fill="#fa0000"/>
<rect x="1385.88" y="180.2" width="4.4" height="21.2" fill="#fa0000"/>
<rect x="1394.28" y="189.5" width="1" height="33" fill="#fa0000"/>
<rect x="1392.58" y="210.1" width="4.4" height="6.1" fill="#fa0000"/>
<rect x="1400.98" y="187" width="1" height="27" fill="#0a7d0a"/>
<rect x="1399.28" y="209" width="4.4" height="5" fill="#0a7d0a"/>
<rect x="1407.68" y="184.5" width="1" height="19.4" fill="#0a7d0a"/>
<rect x="1405.98" y="200.3" width="4.4" height="1.6" fill="#0a7d0a"/>
<rect x="1414.37" y="170.1" width="1" height="28.7" fill="#0a7d0a"/>
<rect x="1412.67" y="187" width="4.4" height="7.6" fill="#0a7d0a"/>
<rect x="1421.07" y="170.9" width="1" height="16.1" fill="#0a7d0a"/>
<rect x="1419.37" y="178.5" width="4.4" height="8.5" fill="#0a7d0a"/>
<rect x="1427.77" y="157.1" width="1" height="23.6" fill="#0a7d0a"/>
<rect x="1426.07" y="173" width="4.4" height="7.7" fill="#0a7d0a"/>
<rect x="1434.46" y="158.3" width="1" height="22.8" fill="#fa0000"/>
<rect x="1432.76" y="162.8" width="4.4" height="14.9" fill="#fa0000"/>
<rect x="1441.16" y="143.6" width="1" height="37.1" fill="#fa0000"/>
<rect x="1439.46" y="170.1" width="4.4" height="5.6" fill="#fa0000"/>
<rect x="1447.86" y="144.8" width="1" height="32.9" fill="#0a7d0a"/>
<rect x="1446.16" y="165" width="4.4" height="7.6" fill="#0a7d0a"/>
<rect x="1454.56" y="144.3" width="1" height="63" fill="#fa0000"/>
<rect x="1452.86" y="162.8" width="4.4" height="31" fill="#fa0000"/>
<rect x="1461.25" y="174.3" width="1" height="23.3" fill="#0a7d0a"/>
<rect x="1459.55" y="178.5" width="4.4" height="6" fill="#0a7d0a"/>
<rect x="1467.95" y="112.2" width="1" height="67.2" fill="#0a7d0a"/>
<rect x="1466.25" y="116" width="4.4" height="58.3" fill="#0a7d0a"/>
<line x1="812" y1="223.4" x2="1550" y2="69.9" stroke="#e81818" stroke-width="2"/>
<line x1="812" y1="223.4" x2="812" y2="231" stroke="#e81818" stroke-width="1"/>
<line x1="1454.7" y1="77.2" x2="1551" y2="77.2" stroke="#e82020" stroke-width="2" stroke-dasharray="4,2"/>
<line x1="1454.7" y1="126.9" x2="1551" y2="126.9" stroke="#e85050" stroke-width="1"/>
<line x1="1454.7" y1="157.6" x2="1551" y2="157.6" stroke="#ec8080" stroke-width="1.2" stroke-dasharray="4,3"/>
<line x1="1454.7" y1="167.5" x2="1551" y2="167.5" stroke="#e85050" stroke-width="1"/>
<line x1="1454.7" y1="176.3" x2="1551" y2="176.3" stroke="#a03030" stroke-width="1.2" stroke-dasharray="4,3"/>
<line x1="1454.7" y1="188" x2="1551" y2="188" stroke="#ec8080" stroke-width="1.2" stroke-dasharray="4,3"/>
<line x1="1454.7" y1="206.8" x2="1551" y2="206.8" stroke="#e85050" stroke-width="1"/>
<text x="1179" y="81.5" font-size="9.2" fill="#e02424">161.8%</text>
<text x="1213.8" y="81.5" font-size="9.2" fill="#e02424">10.7</text>
<text x="1179" y="130.8" font-size="9.2" fill="#e02424">100.0%</text>
<text x="1213.8" y="130.8" font-size="9.2" fill="#e02424">9.95</text>
<text x="1179" y="161.3" font-size="9.2" fill="#e02424">61.8%</text>
<text x="1213.8" y="161.3" font-size="9.2" fill="#e02424">9.49</text>
<text x="1179" y="170.7" font-size="9.2" fill="#e02424">50.0%</text>
<text x="1213.8" y="170.7" font-size="9.2" fill="#e02424">9.35</text>
<text x="1179" y="179.6" font-size="9.2" fill="#e02424">38.2%</text>
<text x="1213.8" y="179.6" font-size="9.2" fill="#e02424">9.21</text>
<text x="1179" y="191.7" font-size="9.2" fill="#e02424">23.6%</text>
<text x="1213.8" y="191.7" font-size="9.2" fill="#e02424">9.03</text>
<text x="1179" y="210.8" font-size="9.2" fill="#e02424">0.0%</text>
<text x="1213.8" y="210.8" font-size="9.2" fill="#e02424">8.75</text>
<line x1="1552" y1="70.2" x2="1556" y2="70.2" stroke="#202020" stroke-width="1"/>
<text x="1556.8" y="73.7" font-size="9.8" fill="#202020">10.8</text>
<line x1="1552" y1="96.84" x2="1556" y2="96.84" stroke="#202020" stroke-width="1"/>
<text x="1556.8" y="100.34" font-size="9.8" fill="#202020">10.4</text>
<line x1="1552" y1="123.47" x2="1556" y2="123.47" stroke="#202020" stroke-width="1"/>
<text x="1556.8" y="126.97" font-size="9.8" fill="#202020">10</text>
<line x1="1552" y1="150.11" x2="1556" y2="150.11" stroke="#202020" stroke-width="1"/>
<text x="1556.8" y="153.61" font-size="9.8" fill="#202020">9.6</text>
<line x1="1552" y1="176.74" x2="1556" y2="176.74" stroke="#202020" stroke-width="1"/>
<text x="1556.8" y="180.24" font-size="9.8" fill="#202020">9.2</text>
<line x1="1552" y1="203.38" x2="1556" y2="203.38" stroke="#202020" stroke-width="1"/>
<text x="1556.8" y="206.88" font-size="9.8" fill="#202020">8.8</text>
<line x1="1552" y1="230.02" x2="1556" y2="230.02" stroke="#202020" stroke-width="1"/>
<text x="1556.8" y="233.52" font-size="9.8" fill="#202020">8.4</text>
<line x1="1552" y1="256.65" x2="1556" y2="256.65" stroke="#202020" stroke-width="1"/>
<text x="1556.8" y="260.15" font-size="9.8" fill="#202020" font-weight="bold">8</text>
<line x1="1552" y1="283.29" x2="1556" y2="283.29" stroke="#202020" stroke-width="1"/>
<text x="1556.8" y="286.79" font-size="9.8" fill="#202020">7.6</text>
<line x1="1552" y1="309.92" x2="1556" y2="309.92" stroke="#202020" stroke-width="1"/>
<text x="1556.8" y="313.42" font-size="9.8" fill="#202020">7.2</text>
<line x1="1552" y1="336.56" x2="1556" y2="336.56" stroke="#202020" stroke-width="1"/>
<text x="1556.8" y="340.06" font-size="9.8" fill="#202020">6.8</text>
<line x1="1552" y1="363.2" x2="1556" y2="363.2" stroke="#202020" stroke-width="1"/>
<text x="1556.8" y="366.7" font-size="9.8" fill="#202020">6.4</text>
<line x1="1552" y1="389.83" x2="1556" y2="389.83" stroke="#202020" stroke-width="1"/>
<text x="1556.8" y="393.33" font-size="9.8" fill="#202020">6</text>
<line x1="1552" y1="416.47" x2="1556" y2="416.47" stroke="#202020" stroke-width="1"/>
<text x="1556.8" y="419.97" font-size="9.8" fill="#202020">5.6</text>
<line x1="1552" y1="443.1" x2="1556" y2="443.1" stroke="#202020" stroke-width="1"/>
<text x="1556.8" y="446.6" font-size="9.8" fill="#202020">5.2</text>
<line x1="1552" y1="469.74" x2="1556" y2="469.74" stroke="#202020" stroke-width="1"/>
<text x="1556.8" y="473.24" font-size="9.8" fill="#202020">4.8</text>
<line x1="1552" y1="496.38" x2="1556" y2="496.38" stroke="#202020" stroke-width="1"/>
<text x="1556.8" y="499.88" font-size="9.8" fill="#202020">4.4</text>
<rect x="1556.8" y="507.2" width="23.8" height="9.8" fill="none" stroke="#d8d8d8" stroke-width="1"/>
<text x="1558.2" y="515.5" font-size="9.2" fill="#c4c4c4" font-weight="bold">Auto</text>
<rect x="1551.5" y="110.9" width="46" height="10.7" fill="#ff0000"/>
<text x="1551.6" y="119.7" font-size="10.2" fill="#200000" font-weight="bold">10.12</text>
<rect x="1551.5" y="129.5" width="46" height="10.1" fill="#0c4444"/>
<text x="1551.6" y="137.7" font-size="9.6" fill="#d8f0f0">9.83</text>
<rect x="1551.5" y="173.9" width="46" height="9.6" fill="#0c4444"/>
<text x="1551.6" y="181.6" font-size="9.6" fill="#d8f0f0">9.18</text>
<rect x="1551.5" y="217.3" width="46" height="10.2" fill="#0c4444"/>
<text x="1551.6" y="225.6" font-size="9.6" fill="#d8f0f0">8.53</text>
<line x1="2" y1="518.5" x2="12" y2="518.5" stroke="#6a6a6a" stroke-width="1"/>
<line x1="29" y1="518.5" x2="1534" y2="518.5" stroke="#6a6a6a" stroke-width="1"/>
<line x1="1551.5" y1="518.5" x2="1598" y2="518.5" stroke="#6a6a6a" stroke-width="1"/>
<line x1="12.3" y1="518.5" x2="12.3" y2="739.5" stroke="#8a8a8a" stroke-width="1"/>
<line x1="1551.5" y1="518.5" x2="1551.5" y2="739.5" stroke="#8a8a8a" stroke-width="1"/>
<line x1="2" y1="611.3" x2="1598" y2="611.3" stroke="#a8a8a8" stroke-width="1"/>
<line x1="2" y1="679.4" x2="1598" y2="679.4" stroke="#6a6a6a" stroke-width="1"/>
<line x1="12.3" y1="739.5" x2="1551.5" y2="739.5" stroke="#6a6a6a" stroke-width="1"/>
<rect x="1572.7" y="521.4" width="10" height="9.8" rx="1.6" fill="#e4e9f0" stroke="#73839a" stroke-width="1.2"/>
<rect x="1575" y="523.8" width="5.4" height="4.6" fill="#ffffff" stroke="#3e4656" stroke-width="0.9"/>
<rect x="1576.4" y="525.3" width="2.6" height="1.6" fill="#3e4656"/>
<rect x="1585.6" y="521.4" width="10" height="9.8" rx="1.6" fill="#d2aeb4" stroke="#5c2432" stroke-width="1.2"/>
<path d="M1588,523.8 L1593.2,529 M1593.2,523.8 L1588,529" stroke="#f4f4f4" stroke-width="1.8"/>
<text x="1556" y="543" font-size="9.2" fill="#c4c4c4" font-weight="bold">Value</text>
<text x="1556" y="554.5" font-size="9.2" fill="#d8d8d8" font-weight="bold">PKR</text>
<line x1="12.3" y1="557.3" x2="1551.5" y2="557.3" stroke="#d03030" stroke-width="1"/>
<line x1="12.3" y1="584.4" x2="1551.5" y2="584.4" stroke="#d03030" stroke-width="1"/>
<line x1="1551.5" y1="577.3" x2="1555" y2="577.3" stroke="#c8c8c8" stroke-width="1"/>
<text x="1556.5" y="580.6" font-size="9.2" fill="#c8c8c8">40</text>
<line x1="1551.5" y1="604.4" x2="1556" y2="604.4" stroke="#c8c8c8" stroke-width="1"/>
<rect x="1556.8" y="600" width="23.8" height="9.8" fill="none" stroke="#d8d8d8" stroke-width="1"/>
<text x="1558.2" y="608.3" font-size="9.2" fill="#c4c4c4" font-weight="bold">Auto</text>
<g transform="translate(22.9,526.3)"><circle r="4.6" fill="url(#clk)" stroke="#8a96aa" stroke-width="0.9"/><path d="M0.6,-2.6 V0.5 H-2.8" fill="none" stroke="#111" stroke-width="1.3"/></g>
<text x="28.8" y="530.3" font-size="9" textLength="323.1" lengthAdjust="spacing" fill="#e03a3a">RSI, LOADS LTD, Trade Price(Last),  14, Wilder Smoothing,  12/15/2023, 70.524,</text>
<g transform="translate(360.5,526.3)"><circle r="4.6" fill="url(#clk)" stroke="#8a96aa" stroke-width="0.9"/><path d="M0.6,-2.6 V0.5 H-2.8" fill="none" stroke="#111" stroke-width="1.3"/></g>
<text x="366.3" y="530.3" font-size="9" textLength="189.7" lengthAdjust="spacing" fill="#6050d8">EMA, RSI(LOADS LTD),  9,  12/15/2023, 63.519</text>
<rect x="1572.7" y="614.1" width="10" height="9.8" rx="1.6" fill="#e4e9f0" stroke="#73839a" stroke-width="1.2"/>
<rect x="1575" y="616.5" width="5.4" height="4.6" fill="#ffffff" stroke="#3e4656" stroke-width="0.9"/>
<rect x="1576.4" y="618" width="2.6" height="1.6" fill="#3e4656"/>
<rect x="1585.6" y="614.1" width="10" height="9.8" rx="1.6" fill="#d2aeb4" stroke="#5c2432" stroke-width="1.2"/>
<path d="M1588,616.5 L1593.2,621.7 M1593.2,616.5 L1588,621.7" stroke="#f4f4f4" stroke-width="1.8"/>
<text x="1556" y="636" font-size="9.2" fill="#d0d0d0" font-weight="bold">Value</text>
<text x="1556" y="647.5" font-size="9.2" fill="#d8d8d8" font-weight="bold">PKR</text>
<line x1="12.3" y1="638.5" x2="1551.5" y2="638.5" stroke="#2a90d8" stroke-width="1"/>
<line x1="12.3" y1="665.4" x2="1551.5" y2="665.4" stroke="#2a90d8" stroke-width="1"/>
<line x1="1551.5" y1="672.5" x2="1556" y2="672.5" stroke="#c8c8c8" stroke-width="1"/>
<rect x="1556.8" y="668.5" width="23.8" height="9.8" fill="none" stroke="#d8d8d8" stroke-width="1"/>
<text x="1558.2" y="676.8" font-size="9.2" fill="#c4c4c4" font-weight="bold">Auto</text>
<g transform="translate(22.9,619.6)"><circle r="4.6" fill="url(#clk)" stroke="#8a96aa" stroke-width="0.9"/><path d="M0.6,-2.6 V0.5 H-2.8" fill="none" stroke="#111" stroke-width="1.3"/></g>
<text x="28.8" y="623.6" font-size="9" textLength="317.5" lengthAdjust="spacing" fill="#2a90d8">StochS, LOADS LTD, Trade Price,  5, 3, Simple, 3,  12/15/2023, 53.584, <tspan fill="#e05020">43.057</tspan></text>
<rect x="1572.7" y="682.1" width="10" height="9.8" rx="1.6" fill="#e4e9f0" stroke="#73839a" stroke-width="1.2"/>
<rect x="1575" y="684.5" width="5.4" height="4.6" fill="#ffffff" stroke="#3e4656" stroke-width="0.9"/>
<rect x="1576.4" y="686" width="2.6" height="1.6" fill="#3e4656"/>
<rect x="1585.6" y="682.1" width="10" height="9.8" rx="1.6" fill="#d2aeb4" stroke="#5c2432" stroke-width="1.2"/>
<path d="M1588,684.5 L1593.2,689.7 M1593.2,684.5 L1588,689.7" stroke="#f4f4f4" stroke-width="1.8"/>
<text x="1556" y="704" font-size="9.2" fill="#d0d0d0" font-weight="bold">Value</text>
<line x1="12.3" y1="722" x2="1551.5" y2="722" stroke="#f0eebc" stroke-width="2"/>
<rect x="1556.8" y="729.5" width="23.8" height="9.8" fill="none" stroke="#d8d8d8" stroke-width="1"/>
<text x="1558.2" y="737.8" font-size="9.2" fill="#c4c4c4" font-weight="bold">Auto</text>
<g transform="translate(22.9,687.6)"><circle r="4.6" fill="url(#clk)" stroke="#8a96aa" stroke-width="0.9"/><path d="M0.6,-2.6 V0.5 H-2.8" fill="none" stroke="#111" stroke-width="1.3"/></g>
<text x="28.8" y="691.6" font-size="9" textLength="349.4" lengthAdjust="spacing" fill="#d8d020">MACD, LOADS LTD, Trade Price(Last),  12, 26, 9, Exponential,  12/15/2023, 0.38, <tspan fill="#20b0e0">0.38</tspan></text>
<rect x="1551.5" y="645.3" width="46" height="10.3" fill="#1890f0"/>
<text x="1551.6" y="653.7" font-size="10.2" fill="#001830" font-weight="bold">53.584</text>
<rect x="1551.5" y="655.6" width="46" height="10.2" fill="#ff4010"/>
<text x="1551.6" y="663.9" font-size="9.6" fill="#401000">43.057</text>
<rect x="1551.5" y="702" width="46" height="10.6" fill="#e8e000"/>
<text x="1551.6" y="710.7" font-size="10.2" fill="#202000" font-weight="bold">0.38</text>
<rect x="1551.5" y="712.6" width="46" height="9.9" fill="#10c0f0"/>
<text x="1551.6" y="720.6" font-size="9.6" fill="#002040">0.38</text>
<rect x="1551.5" y="552" width="46" height="10.4" fill="#ff0000"/>
<text x="1551.6" y="560.5" font-size="10.2" fill="#200000" font-weight="bold">70.524</text>
<rect x="1551.5" y="562.4" width="46" height="11" fill="#5038f0"/>
<text x="1551.6" y="571.5" font-size="9.6" fill="#000840">63.519</text>
<line x1="22.5" y1="740.5" x2="22.5" y2="743" stroke="#303030" stroke-width="1"/>
<text x="22.5" y="752.3" font-size="9.2" fill="#303030" text-anchor="middle">30</text>
<line x1="55.5" y1="740.5" x2="55.5" y2="743" stroke="#303030" stroke-width="1"/>
<text x="55.5" y="752.3" font-size="9.2" fill="#303030" text-anchor="middle">06</text>
<line x1="90" y1="740.5" x2="90" y2="743" stroke="#303030" stroke-width="1"/>
<text x="90" y="752.3" font-size="9.2" fill="#303030" text-anchor="middle">13</text>
<line x1="122.5" y1="740.5" x2="122.5" y2="743" stroke="#303030" stroke-width="1"/>
<text x="122.5" y="752.3" font-size="9.2" fill="#303030" text-anchor="middle">20</text>
<line x1="155.75" y1="740.5" x2="155.75" y2="743" stroke="#303030" stroke-width="1"/>
<text x="155.75" y="752.3" font-size="9.2" fill="#303030" text-anchor="middle">27</text>
<line x1="189.5" y1="740.5" x2="189.5" y2="743" stroke="#303030" stroke-width="1"/>
<text x="189.5" y="752.3" font-size="9.2" fill="#303030" text-anchor="middle">06</text>
<line x1="224.25" y1="740.5" x2="224.25" y2="743" stroke="#303030" stroke-width="1"/>
<text x="224.25" y="752.3" font-size="9.2" fill="#303030" text-anchor="middle">13</text>
<line x1="257.5" y1="740.5" x2="257.5" y2="743" stroke="#303030" stroke-width="1"/>
<text x="257.5" y="752.3" font-size="9.2" fill="#303030" text-anchor="middle">20</text>
<line x1="283.25" y1="740.5" x2="283.25" y2="743" stroke="#303030" stroke-width="1"/>
<text x="283.25" y="752.3" font-size="9.2" fill="#303030" text-anchor="middle">27</text>
<line x1="317" y1="740.5" x2="317" y2="743" stroke="#303030" stroke-width="1"/>
<text x="317" y="752.3" font-size="9.2" fill="#303030" text-anchor="middle">03</text>
<line x1="350.5" y1="740.5" x2="350.5" y2="743" stroke="#303030" stroke-width="1"/>
<text x="350.5" y="752.3" font-size="9.2" fill="#303030" text-anchor="middle">10</text>
<line x1="377.5" y1="740.5" x2="377.5" y2="743" stroke="#303030" stroke-width="1"/>
<text x="377.5" y="752.3" font-size="9.2" fill="#303030" text-anchor="middle">17</text>
<line x1="405" y1="740.5" x2="405" y2="743" stroke="#303030" stroke-width="1"/>
<text x="405" y="752.3" font-size="9.2" fill="#303030" text-anchor="middle">26</text>
<line x1="423.75" y1="740.5" x2="423.75" y2="743" stroke="#303030" stroke-width="1"/>
<text x="423.75" y="752.3" font-size="9.2" fill="#303030" text-anchor="middle">02</text>
<line x1="450.75" y1="740.5" x2="450.75" y2="743" stroke="#303030" stroke-width="1"/>
<text x="450.75" y="752.3" font-size="9.2" fill="#303030" text-anchor="middle">08</text>
<line x1="485" y1="740.5" x2="485" y2="743" stroke="#303030" stroke-width="1"/>
<text x="485" y="752.3" font-size="9.2" fill="#303030" text-anchor="middle">15</text>
<line x1="518" y1="740.5" x2="518" y2="743" stroke="#303030" stroke-width="1"/>
<text x="518" y="752.3" font-size="9.2" fill="#303030" text-anchor="middle">22</text>
<line x1="551.25" y1="740.5" x2="551.25" y2="743" stroke="#303030" stroke-width="1"/>
<text x="551.25" y="752.3" font-size="9.2" fill="#303030" text-anchor="middle">29</text>
<line x1="584.5" y1="740.5" x2="584.5" y2="743" stroke="#303030" stroke-width="1"/>
<text x="584.5" y="752.3" font-size="9.2" fill="#303030" text-anchor="middle">05</text>
<line x1="618.75" y1="740.5" x2="618.75" y2="743" stroke="#303030" stroke-width="1"/>
<text x="618.75" y="752.3" font-size="9.2" fill="#303030" text-anchor="middle">12</text>
<line x1="652" y1="740.5" x2="652" y2="743" stroke="#303030" stroke-width="1"/>
<text x="652" y="752.3" font-size="9.2" fill="#303030" text-anchor="middle">19</text>
<line x1="685.5" y1="740.5" x2="685.5" y2="743" stroke="#303030" stroke-width="1"/>
<text x="685.5" y="752.3" font-size="9.2" fill="#303030" text-anchor="middle">26</text>
<line x1="732" y1="740.5" x2="732" y2="743" stroke="#303030" stroke-width="1"/>
<text x="732" y="752.3" font-size="9.2" fill="#303030" text-anchor="middle">10</text>
<line x1="766.25" y1="740.5" x2="766.25" y2="743" stroke="#303030" stroke-width="1"/>
<text x="766.25" y="752.3" font-size="9.2" fill="#303030" text-anchor="middle">17</text>
<line x1="797.5" y1="740.5" x2="797.5" y2="743" stroke="#303030" stroke-width="1"/>
<text x="797.5" y="752.3" font-size="9.2" fill="#303030" text-anchor="middle">24</text>
<line x1="825.75" y1="740.5" x2="825.75" y2="743" stroke="#303030" stroke-width="1"/>
<text x="825.75" y="752.3" font-size="9.2" fill="#303030" text-anchor="middle">31</text>
<line x1="859.25" y1="740.5" x2="859.25" y2="743" stroke="#303030" stroke-width="1"/>
<text x="859.25" y="752.3" font-size="9.2" fill="#303030" text-anchor="middle">07</text>
<line x1="893.25" y1="740.5" x2="893.25" y2="743" stroke="#303030" stroke-width="1"/>
<text x="893.25" y="752.3" font-size="9.2" fill="#303030" text-anchor="middle">15</text>
<line x1="918.75" y1="740.5" x2="918.75" y2="743" stroke="#303030" stroke-width="1"/>
<text x="918.75" y="752.3" font-size="9.2" fill="#303030" text-anchor="middle">21</text>
<line x1="952" y1="740.5" x2="952" y2="743" stroke="#303030" stroke-width="1"/>
<text x="952" y="752.3" font-size="9.2" fill="#303030" text-anchor="middle">28</text>
<line x1="987" y1="740.5" x2="987" y2="743" stroke="#303030" stroke-width="1"/>
<text x="987" y="752.3" font-size="9.2" fill="#303030" text-anchor="middle">04</text>
<line x1="1020.75" y1="740.5" x2="1020.75" y2="743" stroke="#303030" stroke-width="1"/>
<text x="1020.75" y="752.3" font-size="9.2" fill="#303030" text-anchor="middle">11</text>
<line x1="1053.75" y1="740.5" x2="1053.75" y2="743" stroke="#303030" stroke-width="1"/>
<text x="1053.75" y="752.3" font-size="9.2" fill="#303030" text-anchor="middle">18</text>
<line x1="1087.5" y1="740.5" x2="1087.5" y2="743" stroke="#303030" stroke-width="1"/>
<text x="1087.5" y="752.3" font-size="9.2" fill="#303030" text-anchor="middle">25</text>
<line x1="1113.25" y1="740.5" x2="1113.25" y2="743" stroke="#303030" stroke-width="1"/>
<text x="1113.25" y="752.3" font-size="9.2" fill="#303030" text-anchor="middle">02</text>
<line x1="1147" y1="740.5" x2="1147" y2="743" stroke="#303030" stroke-width="1"/>
<text x="1147" y="752.3" font-size="9.2" fill="#303030" text-anchor="middle">09</text>
<line x1="1180.5" y1="740.5" x2="1180.5" y2="743" stroke="#303030" stroke-width="1"/>
<text x="1180.5" y="752.3" font-size="9.2" fill="#303030" text-anchor="middle">16</text>
<line x1="1213.25" y1="740.5" x2="1213.25" y2="743" stroke="#303030" stroke-width="1"/>
<text x="1213.25" y="752.3" font-size="9.2" fill="#303030" text-anchor="middle">23</text>
<line x1="1247" y1="740.5" x2="1247" y2="743" stroke="#303030" stroke-width="1"/>
<text x="1247" y="752.3" font-size="9.2" fill="#303030" text-anchor="middle">30</text>
<line x1="1280.5" y1="740.5" x2="1280.5" y2="743" stroke="#303030" stroke-width="1"/>
<text x="1280.5" y="752.3" font-size="9.2" fill="#303030" text-anchor="middle">06</text>
<line x1="1308.25" y1="740.5" x2="1308.25" y2="743" stroke="#303030" stroke-width="1"/>
<text x="1308.25" y="752.3" font-size="9.2" fill="#303030" text-anchor="middle">13</text>
<line x1="1341.25" y1="740.5" x2="1341.25" y2="743" stroke="#303030" stroke-width="1"/>
<text x="1341.25" y="752.3" font-size="9.2" fill="#303030" text-anchor="middle">20</text>
<line x1="1375" y1="740.5" x2="1375" y2="743" stroke="#303030" stroke-width="1"/>
<text x="1375" y="752.3" font-size="9.2" fill="#303030" text-anchor="middle">27</text>
<line x1="1408.25" y1="740.5" x2="1408.25" y2="743" stroke="#303030" stroke-width="1"/>
<text x="1408.25" y="752.3" font-size="9.2" fill="#303030" text-anchor="middle">04</text>
<line x1="1441.75" y1="740.5" x2="1441.75" y2="743" stroke="#303030" stroke-width="1"/>
<text x="1441.75" y="752.3" font-size="9.2" fill="#303030" text-anchor="middle">11</text>
<line x1="1475" y1="740.5" x2="1475" y2="743" stroke="#303030" stroke-width="1"/>
<text x="1475" y="752.3" font-size="9.2" fill="#303030" text-anchor="middle">18</text>
<line x1="1508.75" y1="740.5" x2="1508.75" y2="743" stroke="#303030" stroke-width="1"/>
<text x="1508.75" y="752.3" font-size="9.2" fill="#303030" text-anchor="middle">26</text>
<line x1="1535" y1="740.5" x2="1535" y2="743" stroke="#303030" stroke-width="1"/>
<text x="1535" y="752.3" font-size="9.2" fill="#303030" text-anchor="middle">01</text>
<line x1="35.5" y1="740.5" x2="35.5" y2="743" stroke="#303030" stroke-width="1"/>
<line x1="35.5" y1="754" x2="35.5" y2="765" stroke="#202020" stroke-width="1.2"/>
<line x1="169.25" y1="740.5" x2="169.25" y2="743" stroke="#303030" stroke-width="1"/>
<line x1="169.25" y1="754" x2="169.25" y2="765" stroke="#202020" stroke-width="1.2"/>
<line x1="317" y1="740.5" x2="317" y2="743" stroke="#303030" stroke-width="1"/>
<line x1="317" y1="754" x2="317" y2="765" stroke="#202020" stroke-width="1.2"/>
<line x1="423.75" y1="740.5" x2="423.75" y2="743" stroke="#303030" stroke-width="1"/>
<line x1="423.75" y1="754" x2="423.75" y2="765" stroke="#202020" stroke-width="1.2"/>
<line x1="570.75" y1="740.5" x2="570.75" y2="743" stroke="#303030" stroke-width="1"/>
<line x1="570.75" y1="754" x2="570.75" y2="765" stroke="#202020" stroke-width="1.2"/>
<line x1="698.25" y1="740.5" x2="698.25" y2="743" stroke="#303030" stroke-width="1"/>
<line x1="698.25" y1="754" x2="698.25" y2="765" stroke="#202020" stroke-width="1.2"/>
<line x1="832" y1="740.5" x2="832" y2="743" stroke="#303030" stroke-width="1"/>
<line x1="832" y1="754" x2="832" y2="765" stroke="#202020" stroke-width="1.2"/>
<line x1="979.5" y1="740.5" x2="979.5" y2="743" stroke="#303030" stroke-width="1"/>
<line x1="979.5" y1="754" x2="979.5" y2="765" stroke="#202020" stroke-width="1.2"/>
<line x1="1113.25" y1="740.5" x2="1113.25" y2="743" stroke="#303030" stroke-width="1"/>
<line x1="1113.25" y1="754" x2="1113.25" y2="765" stroke="#202020" stroke-width="1.2"/>
<line x1="1260" y1="740.5" x2="1260" y2="743" stroke="#303030" stroke-width="1"/>
<line x1="1260" y1="754" x2="1260" y2="765" stroke="#202020" stroke-width="1.2"/>
<line x1="1401.25" y1="740.5" x2="1401.25" y2="743" stroke="#303030" stroke-width="1"/>
<line x1="1401.25" y1="754" x2="1401.25" y2="765" stroke="#202020" stroke-width="1.2"/>
<line x1="1535.5" y1="740.5" x2="1535.5" y2="743" stroke="#303030" stroke-width="1"/>
<line x1="1535.5" y1="754" x2="1535.5" y2="765" stroke="#202020" stroke-width="1.2"/>
<text x="102.38" y="762.5" font-size="10" fill="#202020" font-weight="bold" text-anchor="middle">February 2023</text>
<text x="243.12" y="762.5" font-size="10" fill="#202020" font-weight="bold" text-anchor="middle">March 2023</text>
<text x="370.38" y="762.5" font-size="10" fill="#202020" font-weight="bold" text-anchor="middle">April 2023</text>
<text x="497.25" y="762.5" font-size="10" fill="#202020" font-weight="bold" text-anchor="middle">May 2023</text>
<text x="634.5" y="762.5" font-size="10" fill="#202020" font-weight="bold" text-anchor="middle">June 2023</text>
<text x="765.12" y="762.5" font-size="10" fill="#202020" font-weight="bold" text-anchor="middle">July 2023</text>
<text x="905.75" y="762.5" font-size="10" fill="#202020" font-weight="bold" text-anchor="middle">August 2023</text>
<text x="1046.38" y="762.5" font-size="10" fill="#202020" font-weight="bold" text-anchor="middle">September 2023</text>
<text x="1186.62" y="762.5" font-size="10" fill="#202020" font-weight="bold" text-anchor="middle">October 2023</text>
<text x="1330.62" y="762.5" font-size="10" fill="#202020" font-weight="bold" text-anchor="middle">November 2023</text>
<text x="1468.38" y="762.5" font-size="10" fill="#202020" font-weight="bold" text-anchor="middle">December 2023</text>
<polyline points="12.3,577.3 15.2,576.27 21.9,576.51 28.59,576.43 35.29,576.55 41.99,576.26 48.69,576.29 55.38,576.14 62.08,575.79 68.78,574.71 75.47,573.44 82.17,573.26 88.87,573.18 95.56,573.28 102.26,573.62 108.96,574.18 115.66,574.48 122.35,575.27 129.05,575.91 135.75,576.52 142.44,577.7 149.14,579.22 155.84,580.1 162.53,581.45 169.23,582.79 175.93,584.06 182.62,583.92 189.32,582.27 196.02,581.11 202.72,580.73 209.41,577.94 216.11,576.34 222.81,574.81 229.5,573.86 236.2,572.74 242.9,571.72 249.59,570.71 256.29,567.89 262.99,566.97 269.69,567.22 276.38,567.72 283.08,567.98 289.78,567.12 296.47,567.09 303.17,567.21 309.87,566.93 316.56,566.96 323.26,567.37 329.96,567.68 336.66,567.74 343.35,568.12 350.05,568.84 356.75,569.41 363.44,569.89 370.14,570.14 376.84,570.28 383.53,570.57 390.23,570.67 396.93,570.35 403.63,570.14 410.32,569.1 417.02,569.43 423.72,570.58 430.41,571.28 437.11,571.64 443.81,571.62 450.5,572.11 457.2,572.78 463.9,574.05 470.6,574.79 477.29,575.19 483.99,575.26 490.69,573.58 497.38,572.96 504.08,573.07 510.78,573.35 517.48,573.87 524.17,574.31 530.87,574.75 537.57,575.19 544.26,575.85 550.96,575.58 557.66,575.56 564.35,575.01 571.05,575.11 577.75,574.67 584.45,574.31 591.14,574.12 597.84,572.31 604.54,571.05 611.23,569.72 617.93,568.51 624.63,568.68 631.32,568.68 638.02,569.41 644.72,570.58 651.42,572.63 658.11,573.43 664.81,573.54 671.51,573.84 678.2,574.44 684.9,573.41 691.6,573.23 698.29,571.62 704.99,571.33 711.69,570.83 718.39,570.2 725.08,569.7 731.78,567.97 738.48,566.31 745.17,565.76 751.87,564.44 758.57,563.18 765.26,562.73 771.96,562.62 778.66,563.33 785.36,563.58 792.05,563.76 798.75,564.33 805.45,563.02 812.14,562.82 818.84,563.26 825.54,563.95 832.23,564.32 838.93,564.43 845.63,564.84 852.33,565.57 859.02,566.46 865.72,568.08 872.42,568.53 879.11,569.13 885.81,569.42 892.51,569.76 899.2,570.59 905.9,571.44 912.6,571.95 919.3,572.64 925.99,573.07 932.69,573.94 939.39,574.75 946.08,575.36 952.78,576.57 959.48,578.1 966.17,579.68 972.87,580.76 979.57,581.25 986.27,581.61 992.96,581.9 999.66,582.08 1006.36,582.23 1013.05,582.61 1019.75,582.81 1026.45,583.28 1033.14,583.66 1039.84,583.72 1046.54,582.62 1053.24,581.77 1059.93,580.78 1066.63,580.14 1073.33,579.66 1080.02,577.8 1086.72,576.37 1093.42,573.3 1100.11,571.52 1106.81,570.56 1113.51,569.96 1120.21,570.59 1126.9,570.27 1133.6,569.04 1140.3,567.79 1146.99,567.73 1153.69,566.91 1160.39,566.29 1167.08,565.31 1173.78,563.5 1180.48,562.68 1187.17,562.69 1193.87,563.52 1200.57,563.24 1207.27,562.88 1213.96,562.71 1220.66,563.31 1227.36,563.99 1234.05,564.71 1240.75,566.24 1247.45,567.56 1254.14,568.28 1260.84,568.84 1267.54,567.76 1274.24,567.27 1280.93,566.48 1287.63,566.72 1294.33,566.87 1301.02,566.89 1307.72,566.64 1314.42,566.7 1321.12,564.55 1327.81,562.15 1334.51,559.84 1341.21,557.9 1347.9,556.53 1354.6,555.35 1361.3,554.81 1367.99,555.97 1374.69,556.47 1381.39,557.46 1388.09,558.8 1394.78,560.46 1401.48,561.56 1408.18,562.19 1414.87,562.3 1421.57,562.15 1428.27,561.88 1434.96,561.91 1441.66,561.87 1448.36,561.5 1455.06,562.67 1461.75,563.08 1468.45,561.9" fill="none" stroke="#6a50f0" stroke-width="1" stroke-linejoin="round"/>
<polyline points="12.3,572.6 15.2,573.8 21.9,576.2 28.59,575.8 35.29,575.6 41.99,575.6 48.69,575.6 55.38,575.5 62.08,574.6 68.78,571.2 75.47,568.38 82.17,572.53 88.87,572.87 95.56,573.7 102.26,574.95 108.96,576.42 115.66,575.7 122.35,578.44 129.05,578.44 135.75,578.98 142.44,582.43 149.14,585.3 155.84,583.6 162.53,586.84 169.23,588.16 175.93,589.15 182.62,583.36 189.32,575.68 196.02,576.46 202.72,579.22 209.41,566.78 216.11,569.9 222.81,568.73 229.5,570.06 236.2,568.26 242.9,567.61 249.59,566.69 256.29,556.58 262.99,563.29 269.69,568.21 276.38,569.74 283.08,569.03 289.78,563.66 296.47,566.98 303.17,567.67 309.87,565.84 316.56,567.04 323.26,569.02 329.96,568.9 336.66,567.97 343.35,569.68 350.05,571.69 356.75,571.69 363.44,571.8 370.14,571.14 376.84,570.86 383.53,571.74 390.23,571.07 396.93,569.07 403.63,569.29 410.32,564.93 417.02,570.76 423.72,575.19 430.41,574.1 437.11,573.04 443.81,571.57 450.5,574.08 457.2,575.46 463.9,579.14 470.6,577.73 477.29,576.81 483.99,575.52 490.69,566.86 497.38,570.5 504.08,573.47 510.78,574.48 517.48,575.96 524.17,576.08 530.87,576.5 537.57,576.97 544.26,578.46 550.96,574.51 557.66,575.46 564.35,572.8 571.05,575.54 577.75,572.88 584.45,572.88 591.14,573.36 597.84,565.06 604.54,566 611.23,564.41 617.93,563.69 624.63,569.37 631.32,568.67 638.02,572.34 644.72,575.25 651.42,580.85 658.11,576.6 664.81,574.01 671.51,575.01 678.2,576.85 684.9,569.28 691.6,572.51 698.29,565.19 704.99,570.19 711.69,568.82 718.39,567.68 725.08,567.68 731.78,561.05 738.48,559.7 745.17,563.53 751.87,559.18 758.57,558.15 765.26,560.92 771.96,562.16 778.66,566.21 785.36,564.57 792.05,564.45 798.75,566.62 805.45,557.79 812.14,562.01 818.84,565.02 825.54,566.71 832.23,565.8 838.93,564.87 845.63,566.49 852.33,568.49 859.02,570.04 865.72,574.55 872.42,570.33 879.11,571.49 885.81,570.58 892.51,571.14 899.2,573.92 905.9,574.81 912.6,574.03 919.3,575.38 925.99,574.81 932.69,577.4 939.39,577.99 946.08,577.8 952.78,581.39 959.48,584.23 966.17,586.02 972.87,585.06 979.57,583.23 986.27,583.02 992.96,583.06 999.66,582.82 1006.36,582.82 1013.05,584.14 1019.75,583.62 1026.45,585.13 1033.14,585.17 1039.84,583.97 1046.54,578.22 1053.24,578.4 1059.93,576.82 1066.63,577.59 1073.33,577.73 1080.02,570.34 1086.72,570.65 1093.42,561.02 1100.11,564.42 1106.81,566.69 1113.51,567.59 1120.21,573.11 1126.9,568.96 1133.6,564.12 1140.3,562.82 1146.99,567.5 1153.69,563.62 1160.39,563.82 1167.08,561.4 1173.78,556.23 1180.48,559.42 1187.17,562.7 1193.87,566.84 1200.57,562.14 1207.27,561.43 1213.96,562.04 1220.66,565.69 1227.36,566.7 1234.05,567.61 1240.75,572.37 1247.45,572.83 1254.14,571.17 1260.84,571.06 1267.54,563.43 1274.24,565.33 1280.93,563.31 1287.63,567.7 1294.33,567.48 1301.02,566.96 1307.72,565.64 1314.42,566.91 1321.12,555.96 1327.81,552.57 1334.51,550.6 1341.21,550.12 1347.9,551.04 1354.6,550.67 1361.3,552.62 1367.99,560.64 1374.69,558.44 1381.39,561.46 1388.09,564.14 1394.78,567.07 1401.48,565.98 1408.18,564.69 1414.87,562.74 1421.57,561.56 1428.27,560.81 1434.96,562.02 1441.66,561.71 1448.36,560.05 1455.06,567.32 1461.75,564.73 1468.45,557.17" fill="none" stroke="#e03030" stroke-width="1" stroke-linejoin="round"/>
<polyline points="12.3,651 15.2,650.8 21.9,649.5 28.59,654 35.29,659.5 41.99,664 48.69,666.4 55.38,666.65 62.08,665.95 68.78,662.55 75.47,657.4 82.17,652.04 88.87,650.85 95.56,655.61 102.26,661.68 108.96,666.89 115.66,668.88 122.35,670.37 129.05,670.29 135.75,670.05 142.44,669.27 149.14,669.63 155.84,669.81 162.53,670.05 169.23,669.93 175.93,670.71 182.62,670.19 189.32,665.86 196.02,657.6 202.72,650.11 209.41,645.94 216.11,645.5 222.81,644.3 229.5,644.56 236.2,643.96 242.9,645.65 249.59,646.25 256.29,645.79 262.99,644.26 269.69,644.94 276.38,651.75 283.08,660.66 289.78,665.72 296.47,664.01 303.17,658.68 309.87,654.1 316.56,651.55 323.26,652.21 329.96,656.12 336.66,660.89 343.35,664.4 350.05,666.17 356.75,668.3 363.44,669.49 370.14,668.83 376.84,665.54 383.53,662.27 390.23,659.57 396.93,656.62 403.63,653.19 410.32,648.36 417.02,648.02 423.72,650.27 430.41,657.33 437.11,661.58 443.81,662.72 450.5,659.88 457.2,657.64 463.9,658.89 470.6,662.67 477.29,665.66 483.99,665.14 490.69,659.9 497.38,653.28 504.08,648.45 510.78,650.23 517.48,656.68 524.17,664.65 530.87,670.28 537.57,672.41 544.26,672.53 550.96,669.09 557.66,664.68 564.35,657.64 571.05,654.83 577.75,652.77 584.45,653.96 591.14,652.79 597.84,651.09 604.54,648.37 611.23,645.51 617.93,645.07 624.63,647.23 631.32,652.39 638.02,658.97 644.72,665.06 651.42,669.94 658.11,671.34 664.81,668.53 671.51,662.49 678.2,656.87 684.9,653.33 691.6,652.98 698.29,650.71 704.99,650.16 711.69,647.77 718.39,648.81 725.08,648.5 731.78,647.96 738.48,645.86 745.17,644.03 751.87,643.39 758.57,643 765.26,642.49 771.96,643.71 778.66,648.2 785.36,653.71 792.05,657.82 798.75,658.51 805.45,655.21 812.14,650.71 818.84,646.16 825.54,648.23 832.23,652.4 838.93,657.56 845.63,659.27 852.33,661.26 859.02,664.2 865.72,668.45 872.42,669.89 879.11,668.06 885.81,662.08 892.51,656.68 899.2,654.27 905.9,657.07 912.6,662.21 919.3,667.08 925.99,669.55 932.69,671.09 939.39,671.56 946.08,671.19 952.78,670.44 959.48,668.99 966.17,669.43 972.87,668.09 979.57,666.94 986.27,661.56 992.96,655.46 999.66,647.96 1006.36,643.32 1013.05,643.66 1019.75,648.66 1026.45,655.41 1033.14,658.39 1039.84,657.88 1046.54,653.79 1053.24,648.7 1059.93,642.43 1066.63,638.79 1073.33,638.41 1080.02,640.76 1086.72,642.45 1093.42,642.14 1100.11,642.18 1106.81,643.74 1113.51,648.02 1120.21,654.09 1126.9,658.86 1133.6,659.41 1140.3,654.06 1146.99,648.53 1153.69,645.64 1160.39,646.83 1167.08,647.14 1173.78,646.67 1180.48,644.58 1187.17,644.65 1193.87,648.34 1200.57,653.49 1207.27,656.51 1213.96,653.49 1220.66,650.25 1227.36,649.59 1234.05,654.67 1240.75,660.6 1247.45,665.41 1254.14,666.65 1260.84,665.47 1267.54,661.41 1274.24,656.85 1280.93,651.88 1287.63,650.39 1294.33,651.05 1301.02,655.36 1307.72,658.09 1314.42,660.01 1321.12,655.85 1327.81,650.22 1334.51,641.88 1341.21,638.21 1347.9,636.93 1354.6,639.43 1361.3,644.07 1367.99,651.12 1374.69,658.06 1381.39,662.15 1388.09,663.55 1394.78,665 1401.48,666.65 1408.18,666.64 1414.87,662.89 1421.57,655.85 1428.27,648.49 1434.96,643.93 1441.66,644.54 1448.36,647.95 1455.06,652.84 1461.75,655.47 1468.45,654.78" fill="none" stroke="#e05030" stroke-width="1" stroke-linejoin="round"/>
<polyline points="12.3,648.4 15.2,648.4 21.9,652 28.59,659 35.29,665.5 41.99,666.2 48.69,665.5 55.38,665.2 62.08,664.78 68.78,657.68 75.47,649.75 82.17,648.68 88.87,654.13 95.56,664.03 102.26,666.9 108.96,669.76 115.66,669.97 122.35,671.39 129.05,669.52 135.75,669.25 142.44,669.06 149.14,670.58 155.84,669.79 162.53,669.79 169.23,670.21 175.93,672.12 182.62,668.23 189.32,657.23 196.02,647.33 202.72,645.75 209.41,644.73 216.11,646.02 222.81,642.15 229.5,645.5 236.2,644.23 242.9,647.22 249.59,647.31 256.29,642.85 262.99,642.63 269.69,649.36 276.38,663.27 283.08,669.36 289.78,664.53 296.47,658.14 303.17,653.36 309.87,650.81 316.56,650.47 323.26,655.35 329.96,662.54 336.66,664.79 343.35,665.86 350.05,667.87 356.75,671.17 363.44,669.43 370.14,665.89 376.84,661.31 383.53,659.6 390.23,657.81 396.93,652.44 403.63,649.31 410.32,643.34 417.02,651.41 423.72,656.05 430.41,664.51 437.11,664.17 443.81,659.48 450.5,655.98 457.2,657.45 463.9,663.25 470.6,667.32 477.29,666.4 483.99,661.7 490.69,651.59 497.38,646.54 504.08,647.21 510.78,656.95 517.48,665.88 524.17,671.13 530.87,673.83 537.57,672.27 544.26,671.49 550.96,663.51 557.66,659.02 564.35,650.39 571.05,655.09 577.75,652.84 584.45,653.95 591.14,651.59 597.84,647.74 604.54,645.78 611.23,643.02 617.93,646.41 624.63,652.27 631.32,658.48 638.02,666.16 644.72,670.56 651.42,673.12 658.11,670.34 664.81,662.14 671.51,654.99 678.2,653.48 684.9,651.52 691.6,653.93 698.29,646.67 704.99,649.87 711.69,646.76 718.39,649.81 725.08,648.94 731.78,645.14 738.48,643.5 745.17,643.44 751.87,643.24 758.57,642.32 765.26,641.92 771.96,646.89 778.66,655.78 785.36,658.45 792.05,659.22 798.75,657.86 805.45,648.53 812.14,645.74 818.84,644.2 825.54,654.75 832.23,658.25 838.93,659.69 845.63,659.86 852.33,664.24 859.02,668.51 865.72,672.59 872.42,668.58 879.11,663 885.81,654.66 892.51,652.37 899.2,655.78 905.9,663.05 912.6,667.79 919.3,670.39 925.99,670.46 932.69,672.42 939.39,671.79 946.08,669.35 952.78,670.17 959.48,667.44 966.17,670.68 972.87,666.15 979.57,663.98 986.27,654.56 992.96,647.84 999.66,641.48 1006.36,640.63 1013.05,648.87 1019.75,656.47 1026.45,660.89 1033.14,657.79 1039.84,654.95 1046.54,648.64 1053.24,642.51 1059.93,636.13 1066.63,637.74 1073.33,641.36 1080.02,643.18 1086.72,642.8 1093.42,640.45 1100.11,643.27 1106.81,647.5 1113.51,653.29 1120.21,661.49 1126.9,661.79 1133.6,654.96 1140.3,645.42 1146.99,645.2 1153.69,646.32 1160.39,648.96 1167.08,646.14 1173.78,644.9 1180.48,642.69 1187.17,646.37 1193.87,655.95 1200.57,658.16 1207.27,655.42 1213.96,646.9 1220.66,648.43 1227.36,653.44 1234.05,662.14 1240.75,666.22 1247.45,667.87 1254.14,665.87 1260.84,662.66 1267.54,655.7 1274.24,652.2 1280.93,647.73 1287.63,651.26 1294.33,654.17 1301.02,660.65 1307.72,659.45 1314.42,659.94 1321.12,648.14 1327.81,642.57 1334.51,634.93 1341.21,637.14 1347.9,638.73 1354.6,642.42 1361.3,651.06 1367.99,659.86 1374.69,663.25 1381.39,663.35 1388.09,664.04 1394.78,667.62 1401.48,668.29 1408.18,664.02 1414.87,656.37 1421.57,647.17 1428.27,641.95 1434.96,642.68 1441.66,648.98 1448.36,652.17 1455.06,657.37 1461.75,656.87 1468.45,650.1" fill="none" stroke="#30a0e8" stroke-width="1" stroke-linejoin="round"/>
<polyline points="12.3,733.5 15.2,733.27 21.9,733.1 28.59,732.81 35.29,732.48 41.99,732.05 48.69,731.62 55.38,731.16 62.08,730.65 68.78,729.99 75.47,729.19 82.17,728.46 88.87,727.81 95.56,727.26 102.26,726.83 108.96,726.54 115.66,726.32 122.35,726.25 129.05,726.25 135.75,726.32 142.44,726.54 149.14,726.95 155.84,727.42 162.53,728.06 169.23,728.82 175.93,729.68 182.62,730.41 189.32,730.8 196.02,730.97 202.72,731.08 209.41,730.68 216.11,730.09 222.81,729.33 229.5,728.54 236.2,727.69 242.9,726.8 249.59,725.88 256.29,724.36 262.99,722.81 269.69,721.57 276.38,720.67 283.08,720.01 289.78,719.16 296.47,718.42 303.17,717.84 309.87,717.28 316.56,716.83 323.26,716.58 329.96,716.48 336.66,716.44 343.35,716.53 350.05,716.8 356.75,717.19 363.44,717.64 370.14,718.09 376.84,718.52 383.53,718.95 390.23,719.34 396.93,719.63 403.63,719.85 410.32,719.88 417.02,719.96 423.72,720.24 430.41,720.61 437.11,720.98 443.81,721.28 450.5,721.62 457.2,722.01 463.9,722.57 470.6,723.16 477.29,723.71 483.99,724.17 490.69,724.27 497.38,724.25 504.08,724.27 510.78,724.34 517.48,724.5 524.17,724.71 530.87,724.94 537.57,725.19 544.26,725.47 550.96,725.67 557.66,725.82 564.35,725.85 571.05,725.89 577.75,725.86 584.45,725.76 591.14,725.65 597.84,725.27 604.54,724.78 611.23,724.17 617.93,723.49 624.63,722.94 631.32,722.48 638.02,722.2 644.72,722.13 651.42,722.41 658.11,722.79 664.81,723.13 671.51,723.46 678.2,723.84 684.9,723.97 691.6,724.07 698.29,723.81 704.99,723.54 711.69,723.22 718.39,722.83 725.08,722.4 731.78,721.62 738.48,720.56 745.17,719.54 751.87,718.29 758.57,716.89 765.26,715.59 771.96,714.47 778.66,713.72 785.36,713.16 792.05,712.76 798.75,712.58 805.45,711.96 812.14,711.31 818.84,710.85 825.54,710.64 832.23,710.57 838.93,710.55 845.63,710.66 852.33,710.98 859.02,711.5 865.72,712.38 872.42,713.26 879.11,714.16 885.81,715.01 892.51,715.81 899.2,716.71 905.9,717.68 912.6,718.61 919.3,719.55 925.99,720.43 932.69,721.35 939.39,722.28 946.08,723.16 952.78,724.14 959.48,725.3 966.17,726.63 972.87,727.96 979.57,729.16 986.27,730.19 992.96,731.05 999.66,731.72 1006.36,732.22 1013.05,732.63 1019.75,732.91 1026.45,733.16 1033.14,733.33 1039.84,733.41 1046.54,733.29 1053.24,733.04 1059.93,732.65 1066.63,732.2 1073.33,731.72 1080.02,731.07 1086.72,730.35 1093.42,729.31 1100.11,728.19 1106.81,727.12 1113.51,726.14 1120.21,725.42 1126.9,724.76 1133.6,724 1140.3,723.16 1146.99,722.44 1153.69,721.67 1160.39,720.92 1167.08,720.12 1173.78,719.03 1180.48,717.93 1187.17,716.98 1193.87,716.33 1200.57,715.66 1207.27,714.99 1213.96,714.4 1220.66,714.01 1227.36,713.84 1234.05,713.86 1240.75,714.19 1247.45,714.73 1254.14,715.34 1260.84,715.97 1267.54,716.28 1274.24,716.44 1280.93,716.42 1287.63,716.45 1294.33,716.52 1301.02,716.59 1307.72,716.62 1314.42,716.68 1321.12,716.13 1327.81,714.89 1334.51,713.04 1341.21,710.86 1347.9,708.64 1354.6,706.49 1361.3,704.6 1367.99,703.3 1374.69,702.3 1381.39,701.72 1388.09,701.59 1394.78,701.93 1401.48,702.54 1408.18,703.23 1414.87,703.87 1421.57,704.4 1428.27,704.83 1434.96,705.24 1441.66,705.65 1448.36,705.97 1455.06,706.53 1461.75,707.09 1468.45,707.08" fill="none" stroke="#30c0e8" stroke-width="1" stroke-linejoin="round"/>
<polyline points="12.3,731.5 15.2,732.98 21.9,732.43 28.59,731.66 35.29,731.15 41.99,730.34 48.69,729.89 55.38,729.31 62.08,728.61 68.78,727.36 75.47,725.98 82.17,725.54 88.87,725.21 95.56,725.06 102.26,725.12 108.96,725.38 115.66,725.45 122.35,725.94 129.05,726.28 135.75,726.59 142.44,727.4 149.14,728.61 155.84,729.32 162.53,730.6 169.23,731.89 175.93,733.1 182.62,733.31 189.32,732.36 196.02,731.64 202.72,731.55 209.41,729.08 216.11,727.7 222.81,726.29 229.5,725.41 236.2,724.28 242.9,723.24 249.59,722.21 256.29,718.27 262.99,716.61 269.69,716.61 276.38,717.1 283.08,717.33 289.78,715.76 296.47,715.48 303.17,715.53 309.87,715.03 316.56,715.02 323.26,715.59 329.96,716.08 336.66,716.28 343.35,716.89 350.05,717.89 356.75,718.72 363.44,719.44 370.14,719.9 376.84,720.23 383.53,720.67 390.23,720.91 396.93,720.8 403.63,720.75 410.32,719.97 417.02,720.28 423.72,721.38 430.41,722.07 437.11,722.45 443.81,722.5 450.5,722.97 457.2,723.59 463.9,724.79 470.6,725.52 477.29,725.92 483.99,726.03 490.69,724.66 497.38,724.18 504.08,724.34 510.78,724.64 517.48,725.14 524.17,725.53 530.87,725.87 537.57,726.17 544.26,726.63 550.96,726.45 557.66,726.41 564.35,726 571.05,726.05 577.75,725.71 584.45,725.39 591.14,725.18 597.84,723.78 604.54,722.79 611.23,721.73 617.93,720.79 624.63,720.75 631.32,720.63 638.02,721.06 644.72,721.85 651.42,723.56 658.11,724.31 664.81,724.49 671.51,724.79 678.2,725.33 684.9,724.51 691.6,724.43 698.29,722.77 704.99,722.49 711.69,721.94 718.39,721.24 725.08,720.69 731.78,718.49 738.48,716.35 745.17,715.44 751.87,713.29 758.57,711.29 765.26,710.37 771.96,710.03 778.66,710.72 785.36,710.91 792.05,711.15 798.75,711.88 805.45,709.49 812.14,708.71 818.84,709 825.54,709.8 832.23,710.27 838.93,710.47 845.63,711.12 852.33,712.23 859.02,713.58 865.72,715.93 872.42,716.75 879.11,717.78 885.81,718.39 892.51,719.05 899.2,720.3 905.9,721.53 912.6,722.34 919.3,723.3 925.99,723.94 932.69,725.03 939.39,725.99 946.08,726.68 952.78,728.06 959.48,729.94 966.17,731.96 972.87,733.3 979.57,733.96 986.27,734.32 992.96,734.47 999.66,734.41 1006.36,734.23 1013.05,734.24 1019.75,734.07 1026.45,734.12 1033.14,734.03 1039.84,733.73 1046.54,732.82 1053.24,732.01 1059.93,731.12 1066.63,730.41 1073.33,729.79 1080.02,728.49 1086.72,727.43 1093.42,725.15 1100.11,723.71 1106.81,722.84 1113.51,722.25 1120.21,722.52 1126.9,722.13 1133.6,720.96 1140.3,719.79 1146.99,719.55 1153.69,718.6 1160.39,717.92 1167.08,716.91 1173.78,714.7 1180.48,713.51 1187.17,713.17 1193.87,713.71 1200.57,713 1207.27,712.33 1213.96,712.01 1220.66,712.49 1227.36,713.15 1234.05,713.92 1240.75,715.5 1247.45,716.91 1254.14,717.78 1260.84,718.49 1267.54,717.5 1274.24,717.1 1280.93,716.35 1287.63,716.58 1294.33,716.77 1301.02,716.88 1307.72,716.75 1314.42,716.9 1321.12,713.92 1327.81,709.94 1334.51,705.65 1341.21,702.12 1347.9,699.75 1354.6,697.9 1361.3,697.04 1367.99,698.11 1374.69,698.32 1381.39,699.38 1388.09,701.06 1394.78,703.31 1401.48,704.95 1408.18,706.03 1414.87,706.43 1421.57,706.52 1428.27,706.51 1434.96,706.9 1441.66,707.29 1448.36,707.26 1455.06,708.74 1461.75,709.35 1468.45,707.04" fill="none" stroke="#e0d830" stroke-width="1" stroke-linejoin="round"/>
<rect x="0" y="0" width="1600" height="1.6" fill="#9a9a9a"/>
<rect x="0" y="0" width="2" height="770" fill="#9a9a9a"/>
<rect x="1598" y="0" width="2" height="770" fill="#3c3c3c"/>
<rect x="2" y="764.2" width="1596" height="3.4" fill="#e6e6e6"/>
<rect x="0" y="767.6" width="1600" height="2.4" fill="#404040"/>
</svg>
</body></html>
